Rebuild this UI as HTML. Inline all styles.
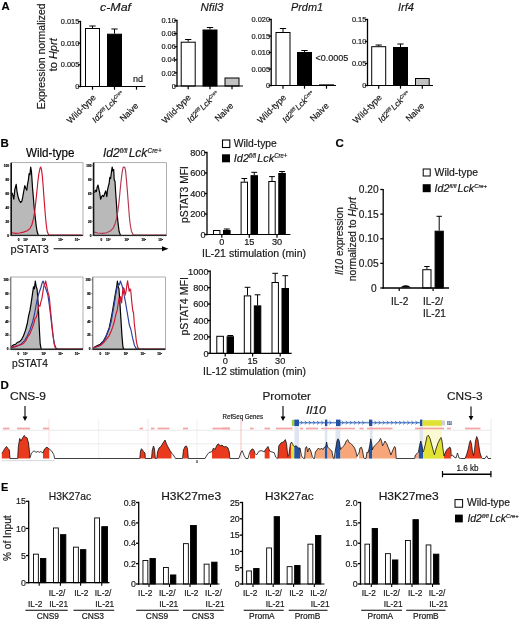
<!DOCTYPE html>
<html><head><meta charset="utf-8"><title>Figure</title>
<style>
html,body{margin:0;padding:0;background:#fff;}
body{width:520px;height:621px;overflow:hidden;}
svg{display:block;will-change:transform;}
svg text{font-family:"Liberation Sans",Arial,Helvetica,sans-serif;stroke:#111;stroke-width:0.18px;}
</style></head><body>
<svg width="520" height="621" viewBox="0 0 520 621">
<rect width="520" height="621" fill="#fff"/>
<text x="1.5" y="10.4" text-anchor="start" style="font-size:11.3px;font-weight:bold;" fill="#000">A</text>
<text x="45.2" y="56.3" text-anchor="middle" style="font-size:11px;" fill="#1a1a1a" transform="rotate(-90 45.2 56.3)" textLength="106" lengthAdjust="spacingAndGlyphs">Expression normalized</text>
<text x="56.7" y="54.8" text-anchor="middle" style="font-size:11px;" fill="#1a1a1a" transform="rotate(-90 56.7 54.8)">to <tspan style="font-style:italic">Hprt</tspan></text>
<rect x="85.50" y="28.50" width="14.00" height="58.00" fill="#fff" stroke="#000" stroke-width="1.0"/>
<line x1="92.5" y1="28" x2="92.5" y2="26" stroke="#000" stroke-width="1.0" stroke-linecap="butt"/>
<line x1="89.35" y1="26" x2="95.65" y2="26" stroke="#000" stroke-width="1.0" stroke-linecap="butt"/>
<rect x="107.50" y="34.20" width="14.00" height="52.30" fill="#000" stroke="#000" stroke-width="1.0"/>
<line x1="114.5" y1="33.7" x2="114.5" y2="29" stroke="#000" stroke-width="1.0" stroke-linecap="butt"/>
<line x1="111.35" y1="29" x2="117.65" y2="29" stroke="#000" stroke-width="1.0" stroke-linecap="butt"/>
<line x1="80.5" y1="20.85" x2="80.5" y2="87.15" stroke="#000" stroke-width="1.3" stroke-linecap="butt"/>
<line x1="77.8" y1="86.5" x2="80.5" y2="86.5" stroke="#000" stroke-width="1.3" stroke-linecap="butt"/>
<text x="79.3" y="89.164" text-anchor="end" style="font-size:7.4px;" fill="#1a1a1a">0</text>
<line x1="77.8" y1="64.83333333333333" x2="80.5" y2="64.83333333333333" stroke="#000" stroke-width="1.3" stroke-linecap="butt"/>
<text x="79.3" y="67.49733333333333" text-anchor="end" style="font-size:7.4px;" fill="#1a1a1a">0.005</text>
<line x1="77.8" y1="43.166666666666664" x2="80.5" y2="43.166666666666664" stroke="#000" stroke-width="1.3" stroke-linecap="butt"/>
<text x="79.3" y="45.830666666666666" text-anchor="end" style="font-size:7.4px;" fill="#1a1a1a">0.010</text>
<line x1="77.8" y1="21.5" x2="80.5" y2="21.5" stroke="#000" stroke-width="1.3" stroke-linecap="butt"/>
<text x="79.3" y="24.164" text-anchor="end" style="font-size:7.4px;" fill="#1a1a1a">0.015</text>
<line x1="79.9" y1="86.5" x2="145.5" y2="86.5" stroke="#000" stroke-width="1.2" stroke-linecap="butt"/>
<text x="115.5" y="10.5" text-anchor="middle" style="font-size:11.5px;font-style:italic;" fill="#1a1a1a" textLength="31" lengthAdjust="spacingAndGlyphs">c-Maf</text>
<text x="138" y="82" text-anchor="middle" style="font-size:9px;" fill="#1a1a1a">nd</text>
<rect x="181.20" y="42.20" width="14.00" height="43.80" fill="#fff" stroke="#000" stroke-width="1.0"/>
<line x1="188.2" y1="41.7" x2="188.2" y2="39.5" stroke="#000" stroke-width="1.0" stroke-linecap="butt"/>
<line x1="185.04999999999998" y1="39.5" x2="191.35" y2="39.5" stroke="#000" stroke-width="1.0" stroke-linecap="butt"/>
<rect x="203.00" y="30.00" width="14.00" height="56.00" fill="#000" stroke="#000" stroke-width="1.0"/>
<line x1="210.0" y1="29.5" x2="210.0" y2="27.5" stroke="#000" stroke-width="1.0" stroke-linecap="butt"/>
<line x1="206.85" y1="27.5" x2="213.15" y2="27.5" stroke="#000" stroke-width="1.0" stroke-linecap="butt"/>
<rect x="225.00" y="78.00" width="14.00" height="8.00" fill="#c2c2c2" stroke="#000" stroke-width="1.0"/>
<line x1="177" y1="19.85" x2="177" y2="86.65" stroke="#000" stroke-width="1.3" stroke-linecap="butt"/>
<line x1="174.3" y1="86.0" x2="177" y2="86.0" stroke="#000" stroke-width="1.3" stroke-linecap="butt"/>
<text x="175.8" y="88.664" text-anchor="end" style="font-size:7.4px;" fill="#1a1a1a">0</text>
<line x1="174.3" y1="72.9" x2="177" y2="72.9" stroke="#000" stroke-width="1.3" stroke-linecap="butt"/>
<text x="175.8" y="75.56400000000001" text-anchor="end" style="font-size:7.4px;" fill="#1a1a1a">0.02</text>
<line x1="174.3" y1="59.8" x2="177" y2="59.8" stroke="#000" stroke-width="1.3" stroke-linecap="butt"/>
<text x="175.8" y="62.464" text-anchor="end" style="font-size:7.4px;" fill="#1a1a1a">0.04</text>
<line x1="174.3" y1="46.7" x2="177" y2="46.7" stroke="#000" stroke-width="1.3" stroke-linecap="butt"/>
<text x="175.8" y="49.364000000000004" text-anchor="end" style="font-size:7.4px;" fill="#1a1a1a">0.06</text>
<line x1="174.3" y1="33.6" x2="177" y2="33.6" stroke="#000" stroke-width="1.3" stroke-linecap="butt"/>
<text x="175.8" y="36.264" text-anchor="end" style="font-size:7.4px;" fill="#1a1a1a">0.08</text>
<line x1="174.3" y1="20.5" x2="177" y2="20.5" stroke="#000" stroke-width="1.3" stroke-linecap="butt"/>
<text x="175.8" y="23.164" text-anchor="end" style="font-size:7.4px;" fill="#1a1a1a">0.10</text>
<line x1="176.4" y1="86" x2="243" y2="86" stroke="#000" stroke-width="1.2" stroke-linecap="butt"/>
<text x="212" y="10.5" text-anchor="middle" style="font-size:11.5px;font-style:italic;" fill="#1a1a1a" textLength="23" lengthAdjust="spacingAndGlyphs">Nfil3</text>
<rect x="276.00" y="32.50" width="14.00" height="53.00" fill="#fff" stroke="#000" stroke-width="1.0"/>
<line x1="283.0" y1="32" x2="283.0" y2="28.5" stroke="#000" stroke-width="1.0" stroke-linecap="butt"/>
<line x1="279.85" y1="28.5" x2="286.15" y2="28.5" stroke="#000" stroke-width="1.0" stroke-linecap="butt"/>
<rect x="297.50" y="52.50" width="14.00" height="33.00" fill="#000" stroke="#000" stroke-width="1.0"/>
<line x1="304.5" y1="52" x2="304.5" y2="50.5" stroke="#000" stroke-width="1.0" stroke-linecap="butt"/>
<line x1="301.35" y1="50.5" x2="307.65" y2="50.5" stroke="#000" stroke-width="1.0" stroke-linecap="butt"/>
<line x1="271.2" y1="18.85" x2="271.2" y2="86.15" stroke="#000" stroke-width="1.3" stroke-linecap="butt"/>
<line x1="268.5" y1="85.5" x2="271.2" y2="85.5" stroke="#000" stroke-width="1.3" stroke-linecap="butt"/>
<text x="270.0" y="88.164" text-anchor="end" style="font-size:7.4px;" fill="#1a1a1a">0</text>
<line x1="268.5" y1="69.0" x2="271.2" y2="69.0" stroke="#000" stroke-width="1.3" stroke-linecap="butt"/>
<text x="270.0" y="71.664" text-anchor="end" style="font-size:7.4px;" fill="#1a1a1a">0.005</text>
<line x1="268.5" y1="52.5" x2="271.2" y2="52.5" stroke="#000" stroke-width="1.3" stroke-linecap="butt"/>
<text x="270.0" y="55.164" text-anchor="end" style="font-size:7.4px;" fill="#1a1a1a">0.010</text>
<line x1="268.5" y1="36.0" x2="271.2" y2="36.0" stroke="#000" stroke-width="1.3" stroke-linecap="butt"/>
<text x="270.0" y="38.664" text-anchor="end" style="font-size:7.4px;" fill="#1a1a1a">0.015</text>
<line x1="268.5" y1="19.5" x2="271.2" y2="19.5" stroke="#000" stroke-width="1.3" stroke-linecap="butt"/>
<text x="270.0" y="22.164" text-anchor="end" style="font-size:7.4px;" fill="#1a1a1a">0.020</text>
<line x1="270.59999999999997" y1="85.5" x2="336" y2="85.5" stroke="#000" stroke-width="1.2" stroke-linecap="butt"/>
<text x="307" y="10.5" text-anchor="middle" style="font-size:11.5px;font-style:italic;" fill="#1a1a1a" textLength="32" lengthAdjust="spacingAndGlyphs">Prdm1</text>
<line x1="319" y1="84.7" x2="334" y2="84.7" stroke="#000" stroke-width="0.8" stroke-linecap="butt"/>
<text x="315.5" y="60.8" text-anchor="start" style="font-size:9px;" fill="#1a1a1a">&lt;0.0005</text>
<rect x="371.70" y="46.70" width="14.00" height="38.80" fill="#fff" stroke="#000" stroke-width="1.0"/>
<line x1="378.7" y1="46.2" x2="378.7" y2="45" stroke="#000" stroke-width="1.0" stroke-linecap="butt"/>
<line x1="375.55" y1="45" x2="381.84999999999997" y2="45" stroke="#000" stroke-width="1.0" stroke-linecap="butt"/>
<rect x="393.50" y="47.50" width="14.00" height="38.00" fill="#000" stroke="#000" stroke-width="1.0"/>
<line x1="400.5" y1="47" x2="400.5" y2="44" stroke="#000" stroke-width="1.0" stroke-linecap="butt"/>
<line x1="397.35" y1="44" x2="403.65" y2="44" stroke="#000" stroke-width="1.0" stroke-linecap="butt"/>
<rect x="415.50" y="78.50" width="13.70" height="7.00" fill="#c2c2c2" stroke="#000" stroke-width="1.0"/>
<line x1="367.5" y1="18.85" x2="367.5" y2="86.15" stroke="#000" stroke-width="1.3" stroke-linecap="butt"/>
<line x1="364.8" y1="85.5" x2="367.5" y2="85.5" stroke="#000" stroke-width="1.3" stroke-linecap="butt"/>
<text x="366.3" y="88.164" text-anchor="end" style="font-size:7.4px;" fill="#1a1a1a">0</text>
<line x1="364.8" y1="63.5" x2="367.5" y2="63.5" stroke="#000" stroke-width="1.3" stroke-linecap="butt"/>
<text x="366.3" y="66.164" text-anchor="end" style="font-size:7.4px;" fill="#1a1a1a">0.05</text>
<line x1="364.8" y1="41.5" x2="367.5" y2="41.5" stroke="#000" stroke-width="1.3" stroke-linecap="butt"/>
<text x="366.3" y="44.164" text-anchor="end" style="font-size:7.4px;" fill="#1a1a1a">0.10</text>
<line x1="364.8" y1="19.5" x2="367.5" y2="19.5" stroke="#000" stroke-width="1.3" stroke-linecap="butt"/>
<text x="366.3" y="22.164" text-anchor="end" style="font-size:7.4px;" fill="#1a1a1a">0.15</text>
<line x1="366.9" y1="85.5" x2="433" y2="85.5" stroke="#000" stroke-width="1.2" stroke-linecap="butt"/>
<text x="406" y="10.5" text-anchor="middle" style="font-size:11.5px;font-style:italic;" fill="#1a1a1a" textLength="16" lengthAdjust="spacingAndGlyphs">Irf4</text>
<line x1="92.5" y1="86.5" x2="92.5" y2="89.7" stroke="#000" stroke-width="1.2" stroke-linecap="butt"/>
<line x1="114.5" y1="86.5" x2="114.5" y2="89.7" stroke="#000" stroke-width="1.2" stroke-linecap="butt"/>
<line x1="136.5" y1="86.5" x2="136.5" y2="89.7" stroke="#000" stroke-width="1.2" stroke-linecap="butt"/>
<text x="70.6" y="124.0" text-anchor="start" style="font-size:8.8px;" fill="#1a1a1a" transform="rotate(-45 70.6 124.0)">Wild-type</text>
<g transform="translate(95.5 123.2) rotate(-45)" fill="#1a1a1a" style="font-style:italic"><text x="0.00" y="0" style="font-size:8.4px">Id2</text><text x="11.76" y="-2.77" style="font-size:4.87px" textLength="5.29" lengthAdjust="spacingAndGlyphs">fl/fl</text><text x="17.98" y="0" style="font-size:8.4px">Lck</text><text x="31.08" y="-2.77" style="font-size:4.87px" textLength="10.08" lengthAdjust="spacingAndGlyphs">Cre+</text></g>
<text x="123.3" y="122.1" text-anchor="start" style="font-size:8.7px;" fill="#1a1a1a" transform="rotate(-45 123.3 122.1)">Naive</text>
<line x1="188.2" y1="86" x2="188.2" y2="89.2" stroke="#000" stroke-width="1.2" stroke-linecap="butt"/>
<line x1="210" y1="86" x2="210" y2="89.2" stroke="#000" stroke-width="1.2" stroke-linecap="butt"/>
<line x1="232" y1="86" x2="232" y2="89.2" stroke="#000" stroke-width="1.2" stroke-linecap="butt"/>
<text x="165.6" y="124.0" text-anchor="start" style="font-size:8.8px;" fill="#1a1a1a" transform="rotate(-45 165.6 124.0)">Wild-type</text>
<g transform="translate(190.5 123.2) rotate(-45)" fill="#1a1a1a" style="font-style:italic"><text x="0.00" y="0" style="font-size:8.4px">Id2</text><text x="11.76" y="-2.77" style="font-size:4.87px" textLength="5.29" lengthAdjust="spacingAndGlyphs">fl/fl</text><text x="17.98" y="0" style="font-size:8.4px">Lck</text><text x="31.08" y="-2.77" style="font-size:4.87px" textLength="10.08" lengthAdjust="spacingAndGlyphs">Cre+</text></g>
<text x="218.3" y="122.1" text-anchor="start" style="font-size:8.7px;" fill="#1a1a1a" transform="rotate(-45 218.3 122.1)">Naive</text>
<line x1="283" y1="85.5" x2="283" y2="88.7" stroke="#000" stroke-width="1.2" stroke-linecap="butt"/>
<line x1="304.5" y1="85.5" x2="304.5" y2="88.7" stroke="#000" stroke-width="1.2" stroke-linecap="butt"/>
<line x1="326.5" y1="85.5" x2="326.5" y2="88.7" stroke="#000" stroke-width="1.2" stroke-linecap="butt"/>
<text x="260.9" y="124.0" text-anchor="start" style="font-size:8.8px;" fill="#1a1a1a" transform="rotate(-45 260.9 124.0)">Wild-type</text>
<g transform="translate(285.8 123.2) rotate(-45)" fill="#1a1a1a" style="font-style:italic"><text x="0.00" y="0" style="font-size:8.4px">Id2</text><text x="11.76" y="-2.77" style="font-size:4.87px" textLength="5.29" lengthAdjust="spacingAndGlyphs">fl/fl</text><text x="17.98" y="0" style="font-size:8.4px">Lck</text><text x="31.08" y="-2.77" style="font-size:4.87px" textLength="10.08" lengthAdjust="spacingAndGlyphs">Cre+</text></g>
<text x="313.6" y="122.1" text-anchor="start" style="font-size:8.7px;" fill="#1a1a1a" transform="rotate(-45 313.6 122.1)">Naive</text>
<line x1="378.7" y1="85.5" x2="378.7" y2="88.7" stroke="#000" stroke-width="1.2" stroke-linecap="butt"/>
<line x1="400.5" y1="85.5" x2="400.5" y2="88.7" stroke="#000" stroke-width="1.2" stroke-linecap="butt"/>
<line x1="422.3" y1="85.5" x2="422.3" y2="88.7" stroke="#000" stroke-width="1.2" stroke-linecap="butt"/>
<text x="356.6" y="124.0" text-anchor="start" style="font-size:8.8px;" fill="#1a1a1a" transform="rotate(-45 356.6 124.0)">Wild-type</text>
<g transform="translate(381.5 123.2) rotate(-45)" fill="#1a1a1a" style="font-style:italic"><text x="0.00" y="0" style="font-size:8.4px">Id2</text><text x="11.76" y="-2.77" style="font-size:4.87px" textLength="5.29" lengthAdjust="spacingAndGlyphs">fl/fl</text><text x="17.98" y="0" style="font-size:8.4px">Lck</text><text x="31.08" y="-2.77" style="font-size:4.87px" textLength="10.08" lengthAdjust="spacingAndGlyphs">Cre+</text></g>
<text x="409.3" y="122.1" text-anchor="start" style="font-size:8.7px;" fill="#1a1a1a" transform="rotate(-45 409.3 122.1)">Naive</text>
<text x="0.5" y="147" text-anchor="start" style="font-size:11.5px;font-weight:bold;" fill="#000">B</text>
<text x="50.2" y="157.2" text-anchor="middle" style="font-size:12px;" fill="#000" textLength="48.5" lengthAdjust="spacingAndGlyphs">Wild-type</text>
<g transform="translate(103 157.2)" fill="#1a1a1a" style="font-style:italic"><text x="0.00" y="0" style="font-size:12px">Id2</text><text x="16.80" y="-3.96" style="font-size:6.96px" textLength="7.56" lengthAdjust="spacingAndGlyphs">fl/fl</text><text x="25.68" y="0" style="font-size:12px">Lck</text><text x="44.40" y="-3.96" style="font-size:6.96px" textLength="14.40" lengthAdjust="spacingAndGlyphs">Cre+</text></g>
<rect x="11.2" y="162.7" width="71.8" height="72.70000000000002" fill="#fff" stroke="#8c8c8c" stroke-width="0.7"/>
<polygon points="11.7,235.4 11.9,192.8 12.9,195.4 13.8,199.2 14.7,190.2 15.5,187.0 16.2,184.4 17.0,191.5 18.1,196.7 19.3,200.5 20.6,202.5 21.9,201.2 22.8,196.7 23.7,191.5 24.8,185.7 25.8,188.3 26.8,190.2 27.6,183.8 28.4,179.9 29.1,173.5 29.9,174.8 30.7,167.0 31.5,172.2 32.0,179.9 32.5,187.6 33.3,196.7 34.0,205.7 35.1,216.0 36.1,225.0 37.1,231.5 38.3,235.1 38.3,235.4" fill="#b9b9b9" stroke="none"/>
<polyline points="11.9,192.8 12.9,195.4 13.8,199.2 14.7,190.2 15.5,187.0 16.2,184.4 17.0,191.5 18.1,196.7 19.3,200.5 20.6,202.5 21.9,201.2 22.8,196.7 23.7,191.5 24.8,185.7 25.8,188.3 26.8,190.2 27.6,183.8 28.4,179.9 29.1,173.5 29.9,174.8 30.7,167.0 31.5,172.2 32.0,179.9 32.5,187.6 33.3,196.7 34.0,205.7 35.1,216.0 36.1,225.0 37.1,231.5 38.3,235.1" fill="none" stroke="#000" stroke-width="1.2" stroke-linejoin="round"/>
<polyline points="11.9,232.7 15.7,233.4 19.6,233.0 23.5,232.1 27.3,230.8 29.9,228.6 31.8,225.0 33.5,218.6 34.8,210.8 35.8,201.8 36.9,191.5 37.9,181.2 38.9,173.5 40.0,168.3 40.7,167.0 41.5,169.6 42.3,176.0 43.1,185.1 43.8,195.4 44.6,205.7 45.4,216.0 46.3,225.0 47.2,231.5 48.6,234.7 68.1,235.1 82.1,235.1" fill="none" stroke="#cf1430" stroke-width="1.15" stroke-linejoin="round"/>
<line x1="10.899999999999999" y1="235.4" x2="83" y2="235.4" stroke="#222" stroke-width="1.4" stroke-linecap="butt"/>
<line x1="11.2" y1="162.7" x2="11.2" y2="235.4" stroke="#111" stroke-width="1.6" stroke-linecap="butt"/>
<line x1="9.399999999999999" y1="235.4" x2="11.2" y2="235.4" stroke="#444" stroke-width="0.5" stroke-linecap="butt"/>
<text x="9.0" y="236.5" text-anchor="end" style="font-size:3.1px;font-weight:bold;" fill="#000">0</text>
<line x1="9.399999999999999" y1="221.4416" x2="11.2" y2="221.4416" stroke="#444" stroke-width="0.5" stroke-linecap="butt"/>
<text x="9.0" y="222.5416" text-anchor="end" style="font-size:3.1px;font-weight:bold;" fill="#000">20</text>
<line x1="9.399999999999999" y1="207.4832" x2="11.2" y2="207.4832" stroke="#444" stroke-width="0.5" stroke-linecap="butt"/>
<text x="9.0" y="208.5832" text-anchor="end" style="font-size:3.1px;font-weight:bold;" fill="#000">40</text>
<line x1="9.399999999999999" y1="193.5248" x2="11.2" y2="193.5248" stroke="#444" stroke-width="0.5" stroke-linecap="butt"/>
<text x="9.0" y="194.6248" text-anchor="end" style="font-size:3.1px;font-weight:bold;" fill="#000">60</text>
<line x1="9.399999999999999" y1="179.5664" x2="11.2" y2="179.5664" stroke="#444" stroke-width="0.5" stroke-linecap="butt"/>
<text x="9.0" y="180.66639999999998" text-anchor="end" style="font-size:3.1px;font-weight:bold;" fill="#000">80</text>
<line x1="9.399999999999999" y1="165.608" x2="11.2" y2="165.608" stroke="#444" stroke-width="0.5" stroke-linecap="butt"/>
<text x="9.0" y="166.708" text-anchor="end" style="font-size:3.1px;font-weight:bold;" fill="#000">100</text>
<text x="18.738999999999997" y="241.0" text-anchor="middle" style="font-size:3.1px;font-weight:bold;" fill="#000">0</text>
<text x="25.56" y="241.0" text-anchor="middle" style="font-size:3.1px;font-weight:bold;" fill="#000">10²</text>
<text x="43.869" y="241.0" text-anchor="middle" style="font-size:3.1px;font-weight:bold;" fill="#000">10³</text>
<text x="60.74199999999999" y="241.0" text-anchor="middle" style="font-size:3.1px;font-weight:bold;" fill="#000">10⁴</text>
<text x="77.256" y="241.0" text-anchor="middle" style="font-size:3.1px;font-weight:bold;" fill="#000">10⁵</text>
<line x1="12.2" y1="235.4" x2="12.2" y2="236.70000000000002" stroke="#555" stroke-width="0.35" stroke-linecap="butt"/>
<line x1="13.98974358974359" y1="235.4" x2="13.98974358974359" y2="236.70000000000002" stroke="#555" stroke-width="0.35" stroke-linecap="butt"/>
<line x1="15.779487179487178" y1="235.4" x2="15.779487179487178" y2="236.70000000000002" stroke="#555" stroke-width="0.35" stroke-linecap="butt"/>
<line x1="17.569230769230767" y1="235.4" x2="17.569230769230767" y2="236.70000000000002" stroke="#555" stroke-width="0.35" stroke-linecap="butt"/>
<line x1="19.358974358974358" y1="235.4" x2="19.358974358974358" y2="236.70000000000002" stroke="#555" stroke-width="0.35" stroke-linecap="butt"/>
<line x1="21.148717948717948" y1="235.4" x2="21.148717948717948" y2="236.70000000000002" stroke="#555" stroke-width="0.35" stroke-linecap="butt"/>
<line x1="22.93846153846154" y1="235.4" x2="22.93846153846154" y2="236.70000000000002" stroke="#555" stroke-width="0.35" stroke-linecap="butt"/>
<line x1="24.728205128205126" y1="235.4" x2="24.728205128205126" y2="236.70000000000002" stroke="#555" stroke-width="0.35" stroke-linecap="butt"/>
<line x1="26.517948717948716" y1="235.4" x2="26.517948717948716" y2="236.70000000000002" stroke="#555" stroke-width="0.35" stroke-linecap="butt"/>
<line x1="28.307692307692307" y1="235.4" x2="28.307692307692307" y2="236.70000000000002" stroke="#555" stroke-width="0.35" stroke-linecap="butt"/>
<line x1="30.097435897435897" y1="235.4" x2="30.097435897435897" y2="236.70000000000002" stroke="#555" stroke-width="0.35" stroke-linecap="butt"/>
<line x1="31.887179487179484" y1="235.4" x2="31.887179487179484" y2="236.70000000000002" stroke="#555" stroke-width="0.35" stroke-linecap="butt"/>
<line x1="33.676923076923075" y1="235.4" x2="33.676923076923075" y2="236.70000000000002" stroke="#555" stroke-width="0.35" stroke-linecap="butt"/>
<line x1="35.46666666666667" y1="235.4" x2="35.46666666666667" y2="236.70000000000002" stroke="#555" stroke-width="0.35" stroke-linecap="butt"/>
<line x1="37.256410256410255" y1="235.4" x2="37.256410256410255" y2="236.70000000000002" stroke="#555" stroke-width="0.35" stroke-linecap="butt"/>
<line x1="39.04615384615384" y1="235.4" x2="39.04615384615384" y2="236.70000000000002" stroke="#555" stroke-width="0.35" stroke-linecap="butt"/>
<line x1="40.83589743589744" y1="235.4" x2="40.83589743589744" y2="236.70000000000002" stroke="#555" stroke-width="0.35" stroke-linecap="butt"/>
<line x1="42.62564102564102" y1="235.4" x2="42.62564102564102" y2="236.70000000000002" stroke="#555" stroke-width="0.35" stroke-linecap="butt"/>
<line x1="44.41538461538461" y1="235.4" x2="44.41538461538461" y2="236.70000000000002" stroke="#555" stroke-width="0.35" stroke-linecap="butt"/>
<line x1="46.205128205128204" y1="235.4" x2="46.205128205128204" y2="236.70000000000002" stroke="#555" stroke-width="0.35" stroke-linecap="butt"/>
<line x1="47.9948717948718" y1="235.4" x2="47.9948717948718" y2="236.70000000000002" stroke="#555" stroke-width="0.35" stroke-linecap="butt"/>
<line x1="49.78461538461538" y1="235.4" x2="49.78461538461538" y2="236.70000000000002" stroke="#555" stroke-width="0.35" stroke-linecap="butt"/>
<line x1="51.57435897435897" y1="235.4" x2="51.57435897435897" y2="236.70000000000002" stroke="#555" stroke-width="0.35" stroke-linecap="butt"/>
<line x1="53.364102564102566" y1="235.4" x2="53.364102564102566" y2="236.70000000000002" stroke="#555" stroke-width="0.35" stroke-linecap="butt"/>
<line x1="55.153846153846146" y1="235.4" x2="55.153846153846146" y2="236.70000000000002" stroke="#555" stroke-width="0.35" stroke-linecap="butt"/>
<line x1="56.94358974358974" y1="235.4" x2="56.94358974358974" y2="236.70000000000002" stroke="#555" stroke-width="0.35" stroke-linecap="butt"/>
<line x1="58.733333333333334" y1="235.4" x2="58.733333333333334" y2="236.70000000000002" stroke="#555" stroke-width="0.35" stroke-linecap="butt"/>
<line x1="60.523076923076914" y1="235.4" x2="60.523076923076914" y2="236.70000000000002" stroke="#555" stroke-width="0.35" stroke-linecap="butt"/>
<line x1="62.31282051282051" y1="235.4" x2="62.31282051282051" y2="236.70000000000002" stroke="#555" stroke-width="0.35" stroke-linecap="butt"/>
<line x1="64.1025641025641" y1="235.4" x2="64.1025641025641" y2="236.70000000000002" stroke="#555" stroke-width="0.35" stroke-linecap="butt"/>
<line x1="65.8923076923077" y1="235.4" x2="65.8923076923077" y2="236.70000000000002" stroke="#555" stroke-width="0.35" stroke-linecap="butt"/>
<line x1="67.68205128205128" y1="235.4" x2="67.68205128205128" y2="236.70000000000002" stroke="#555" stroke-width="0.35" stroke-linecap="butt"/>
<line x1="69.47179487179487" y1="235.4" x2="69.47179487179487" y2="236.70000000000002" stroke="#555" stroke-width="0.35" stroke-linecap="butt"/>
<line x1="71.26153846153846" y1="235.4" x2="71.26153846153846" y2="236.70000000000002" stroke="#555" stroke-width="0.35" stroke-linecap="butt"/>
<line x1="73.05128205128204" y1="235.4" x2="73.05128205128204" y2="236.70000000000002" stroke="#555" stroke-width="0.35" stroke-linecap="butt"/>
<line x1="74.84102564102564" y1="235.4" x2="74.84102564102564" y2="236.70000000000002" stroke="#555" stroke-width="0.35" stroke-linecap="butt"/>
<line x1="76.63076923076923" y1="235.4" x2="76.63076923076923" y2="236.70000000000002" stroke="#555" stroke-width="0.35" stroke-linecap="butt"/>
<line x1="78.42051282051283" y1="235.4" x2="78.42051282051283" y2="236.70000000000002" stroke="#555" stroke-width="0.35" stroke-linecap="butt"/>
<line x1="80.21025641025642" y1="235.4" x2="80.21025641025642" y2="236.70000000000002" stroke="#555" stroke-width="0.35" stroke-linecap="butt"/>
<line x1="82.0" y1="235.4" x2="82.0" y2="236.70000000000002" stroke="#555" stroke-width="0.35" stroke-linecap="butt"/>
<rect x="93.6" y="162.7" width="72.9" height="72.70000000000002" fill="#fff" stroke="#8c8c8c" stroke-width="0.7"/>
<polygon points="94.1,235.4 94.5,192.8 95.4,190.2 96.4,191.5 97.2,187.0 98.0,185.1 98.8,188.9 99.7,192.8 100.6,199.2 101.6,196.7 102.6,195.4 103.7,196.7 104.7,193.4 105.7,190.9 106.8,196.7 107.5,190.2 108.3,186.4 109.1,183.8 109.8,177.3 110.6,178.6 111.4,172.2 112.2,167.0 112.9,170.9 113.7,169.6 114.2,179.9 115.0,181.2 115.5,190.2 116.3,201.8 117.1,213.4 118.1,223.7 119.1,231.5 120.4,235.1 120.4,235.4" fill="#b9b9b9" stroke="none"/>
<polyline points="94.5,192.8 95.4,190.2 96.4,191.5 97.2,187.0 98.0,185.1 98.8,188.9 99.7,192.8 100.6,199.2 101.6,196.7 102.6,195.4 103.7,196.7 104.7,193.4 105.7,190.9 106.8,196.7 107.5,190.2 108.3,186.4 109.1,183.8 109.8,177.3 110.6,178.6 111.4,172.2 112.2,167.0 112.9,170.9 113.7,169.6 114.2,179.9 115.0,181.2 115.5,190.2 116.3,201.8 117.1,213.4 118.1,223.7 119.1,231.5 120.4,235.1" fill="none" stroke="#000" stroke-width="1.2" stroke-linejoin="round"/>
<polyline points="94.5,232.1 97.7,233.0 102.9,233.4 106.8,232.7 110.6,230.8 113.2,228.2 115.1,223.7 116.5,218.6 117.7,212.1 118.9,203.1 119.9,192.8 120.9,182.5 122.0,173.5 123.0,167.7 123.8,167.0 124.8,167.3 125.6,170.9 126.3,178.6 127.1,187.6 127.9,197.9 128.7,208.3 129.4,217.3 130.3,225.0 131.5,231.5 133.2,234.7 150.1,235.1 166.0,235.1" fill="none" stroke="#b5364f" stroke-width="1.15" stroke-linejoin="round"/>
<line x1="93.3" y1="235.4" x2="166.5" y2="235.4" stroke="#222" stroke-width="1.4" stroke-linecap="butt"/>
<line x1="93.6" y1="162.7" x2="93.6" y2="235.4" stroke="#111" stroke-width="1.6" stroke-linecap="butt"/>
<line x1="91.8" y1="235.4" x2="93.6" y2="235.4" stroke="#444" stroke-width="0.5" stroke-linecap="butt"/>
<text x="91.39999999999999" y="236.5" text-anchor="end" style="font-size:3.1px;font-weight:bold;" fill="#000">0</text>
<line x1="91.8" y1="221.4416" x2="93.6" y2="221.4416" stroke="#444" stroke-width="0.5" stroke-linecap="butt"/>
<text x="91.39999999999999" y="222.5416" text-anchor="end" style="font-size:3.1px;font-weight:bold;" fill="#000">20</text>
<line x1="91.8" y1="207.4832" x2="93.6" y2="207.4832" stroke="#444" stroke-width="0.5" stroke-linecap="butt"/>
<text x="91.39999999999999" y="208.5832" text-anchor="end" style="font-size:3.1px;font-weight:bold;" fill="#000">40</text>
<line x1="91.8" y1="193.5248" x2="93.6" y2="193.5248" stroke="#444" stroke-width="0.5" stroke-linecap="butt"/>
<text x="91.39999999999999" y="194.6248" text-anchor="end" style="font-size:3.1px;font-weight:bold;" fill="#000">60</text>
<line x1="91.8" y1="179.5664" x2="93.6" y2="179.5664" stroke="#444" stroke-width="0.5" stroke-linecap="butt"/>
<text x="91.39999999999999" y="180.66639999999998" text-anchor="end" style="font-size:3.1px;font-weight:bold;" fill="#000">80</text>
<line x1="91.8" y1="165.608" x2="93.6" y2="165.608" stroke="#444" stroke-width="0.5" stroke-linecap="butt"/>
<text x="91.39999999999999" y="166.708" text-anchor="end" style="font-size:3.1px;font-weight:bold;" fill="#000">100</text>
<text x="101.2545" y="241.0" text-anchor="middle" style="font-size:3.1px;font-weight:bold;" fill="#000">0</text>
<text x="108.17999999999999" y="241.0" text-anchor="middle" style="font-size:3.1px;font-weight:bold;" fill="#000">10²</text>
<text x="126.7695" y="241.0" text-anchor="middle" style="font-size:3.1px;font-weight:bold;" fill="#000">10³</text>
<text x="143.901" y="241.0" text-anchor="middle" style="font-size:3.1px;font-weight:bold;" fill="#000">10⁴</text>
<text x="160.668" y="241.0" text-anchor="middle" style="font-size:3.1px;font-weight:bold;" fill="#000">10⁵</text>
<line x1="94.6" y1="235.4" x2="94.6" y2="236.70000000000002" stroke="#555" stroke-width="0.35" stroke-linecap="butt"/>
<line x1="96.41794871794872" y1="235.4" x2="96.41794871794872" y2="236.70000000000002" stroke="#555" stroke-width="0.35" stroke-linecap="butt"/>
<line x1="98.23589743589743" y1="235.4" x2="98.23589743589743" y2="236.70000000000002" stroke="#555" stroke-width="0.35" stroke-linecap="butt"/>
<line x1="100.05384615384615" y1="235.4" x2="100.05384615384615" y2="236.70000000000002" stroke="#555" stroke-width="0.35" stroke-linecap="butt"/>
<line x1="101.87179487179486" y1="235.4" x2="101.87179487179486" y2="236.70000000000002" stroke="#555" stroke-width="0.35" stroke-linecap="butt"/>
<line x1="103.68974358974359" y1="235.4" x2="103.68974358974359" y2="236.70000000000002" stroke="#555" stroke-width="0.35" stroke-linecap="butt"/>
<line x1="105.50769230769231" y1="235.4" x2="105.50769230769231" y2="236.70000000000002" stroke="#555" stroke-width="0.35" stroke-linecap="butt"/>
<line x1="107.32564102564102" y1="235.4" x2="107.32564102564102" y2="236.70000000000002" stroke="#555" stroke-width="0.35" stroke-linecap="butt"/>
<line x1="109.14358974358974" y1="235.4" x2="109.14358974358974" y2="236.70000000000002" stroke="#555" stroke-width="0.35" stroke-linecap="butt"/>
<line x1="110.96153846153845" y1="235.4" x2="110.96153846153845" y2="236.70000000000002" stroke="#555" stroke-width="0.35" stroke-linecap="butt"/>
<line x1="112.77948717948718" y1="235.4" x2="112.77948717948718" y2="236.70000000000002" stroke="#555" stroke-width="0.35" stroke-linecap="butt"/>
<line x1="114.5974358974359" y1="235.4" x2="114.5974358974359" y2="236.70000000000002" stroke="#555" stroke-width="0.35" stroke-linecap="butt"/>
<line x1="116.41538461538461" y1="235.4" x2="116.41538461538461" y2="236.70000000000002" stroke="#555" stroke-width="0.35" stroke-linecap="butt"/>
<line x1="118.23333333333332" y1="235.4" x2="118.23333333333332" y2="236.70000000000002" stroke="#555" stroke-width="0.35" stroke-linecap="butt"/>
<line x1="120.05128205128204" y1="235.4" x2="120.05128205128204" y2="236.70000000000002" stroke="#555" stroke-width="0.35" stroke-linecap="butt"/>
<line x1="121.86923076923077" y1="235.4" x2="121.86923076923077" y2="236.70000000000002" stroke="#555" stroke-width="0.35" stroke-linecap="butt"/>
<line x1="123.68717948717949" y1="235.4" x2="123.68717948717949" y2="236.70000000000002" stroke="#555" stroke-width="0.35" stroke-linecap="butt"/>
<line x1="125.5051282051282" y1="235.4" x2="125.5051282051282" y2="236.70000000000002" stroke="#555" stroke-width="0.35" stroke-linecap="butt"/>
<line x1="127.32307692307691" y1="235.4" x2="127.32307692307691" y2="236.70000000000002" stroke="#555" stroke-width="0.35" stroke-linecap="butt"/>
<line x1="129.14102564102564" y1="235.4" x2="129.14102564102564" y2="236.70000000000002" stroke="#555" stroke-width="0.35" stroke-linecap="butt"/>
<line x1="130.95897435897436" y1="235.4" x2="130.95897435897436" y2="236.70000000000002" stroke="#555" stroke-width="0.35" stroke-linecap="butt"/>
<line x1="132.77692307692308" y1="235.4" x2="132.77692307692308" y2="236.70000000000002" stroke="#555" stroke-width="0.35" stroke-linecap="butt"/>
<line x1="134.59487179487178" y1="235.4" x2="134.59487179487178" y2="236.70000000000002" stroke="#555" stroke-width="0.35" stroke-linecap="butt"/>
<line x1="136.4128205128205" y1="235.4" x2="136.4128205128205" y2="236.70000000000002" stroke="#555" stroke-width="0.35" stroke-linecap="butt"/>
<line x1="138.23076923076923" y1="235.4" x2="138.23076923076923" y2="236.70000000000002" stroke="#555" stroke-width="0.35" stroke-linecap="butt"/>
<line x1="140.04871794871795" y1="235.4" x2="140.04871794871795" y2="236.70000000000002" stroke="#555" stroke-width="0.35" stroke-linecap="butt"/>
<line x1="141.86666666666667" y1="235.4" x2="141.86666666666667" y2="236.70000000000002" stroke="#555" stroke-width="0.35" stroke-linecap="butt"/>
<line x1="143.68461538461537" y1="235.4" x2="143.68461538461537" y2="236.70000000000002" stroke="#555" stroke-width="0.35" stroke-linecap="butt"/>
<line x1="145.5025641025641" y1="235.4" x2="145.5025641025641" y2="236.70000000000002" stroke="#555" stroke-width="0.35" stroke-linecap="butt"/>
<line x1="147.32051282051282" y1="235.4" x2="147.32051282051282" y2="236.70000000000002" stroke="#555" stroke-width="0.35" stroke-linecap="butt"/>
<line x1="149.13846153846154" y1="235.4" x2="149.13846153846154" y2="236.70000000000002" stroke="#555" stroke-width="0.35" stroke-linecap="butt"/>
<line x1="150.95641025641027" y1="235.4" x2="150.95641025641027" y2="236.70000000000002" stroke="#555" stroke-width="0.35" stroke-linecap="butt"/>
<line x1="152.77435897435896" y1="235.4" x2="152.77435897435896" y2="236.70000000000002" stroke="#555" stroke-width="0.35" stroke-linecap="butt"/>
<line x1="154.59230769230768" y1="235.4" x2="154.59230769230768" y2="236.70000000000002" stroke="#555" stroke-width="0.35" stroke-linecap="butt"/>
<line x1="156.4102564102564" y1="235.4" x2="156.4102564102564" y2="236.70000000000002" stroke="#555" stroke-width="0.35" stroke-linecap="butt"/>
<line x1="158.22820512820513" y1="235.4" x2="158.22820512820513" y2="236.70000000000002" stroke="#555" stroke-width="0.35" stroke-linecap="butt"/>
<line x1="160.04615384615386" y1="235.4" x2="160.04615384615386" y2="236.70000000000002" stroke="#555" stroke-width="0.35" stroke-linecap="butt"/>
<line x1="161.86410256410255" y1="235.4" x2="161.86410256410255" y2="236.70000000000002" stroke="#555" stroke-width="0.35" stroke-linecap="butt"/>
<line x1="163.6820512820513" y1="235.4" x2="163.6820512820513" y2="236.70000000000002" stroke="#555" stroke-width="0.35" stroke-linecap="butt"/>
<line x1="165.5" y1="235.4" x2="165.5" y2="236.70000000000002" stroke="#555" stroke-width="0.35" stroke-linecap="butt"/>
<text x="10.4" y="253.3" text-anchor="start" style="font-size:10.5px;" fill="#1a1a1a" textLength="38.5" lengthAdjust="spacingAndGlyphs">pSTAT3</text>
<line x1="53.6" y1="248.8" x2="165" y2="248.8" stroke="#000" stroke-width="1.1" stroke-linecap="butt"/>
<polygon points="168.5,248.8 162,246.3 162,251.3" fill="#000"/>
<rect x="10.8" y="277" width="72.2" height="72.19999999999999" fill="#fff" stroke="#8c8c8c" stroke-width="0.7"/>
<polygon points="11.3,349.2 11.2,348.0 11.9,346.1 13.8,344.8 15.7,344.2 17.7,342.2 19.6,341.6 21.5,339.7 23.5,335.8 25.4,330.6 27.3,323.5 28.6,315.8 29.9,310.7 31.2,302.9 32.5,293.9 33.5,286.8 34.4,288.8 35.3,281.0 36.1,286.2 37.0,288.8 37.6,295.2 38.3,305.5 38.9,319.7 39.6,333.9 40.2,344.2 41.2,349.1 41.2,349.2" fill="#b9b9b9" stroke="none"/>
<polyline points="11.2,348.0 11.9,346.1 13.8,344.8 15.7,344.2 17.7,342.2 19.6,341.6 21.5,339.7 23.5,335.8 25.4,330.6 27.3,323.5 28.6,315.8 29.9,310.7 31.2,302.9 32.5,293.9 33.5,286.8 34.4,288.8 35.3,281.0 36.1,286.2 37.0,288.8 37.6,295.2 38.3,305.5 38.9,319.7 39.6,333.9 40.2,344.2 41.2,349.1" fill="none" stroke="#000" stroke-width="1.2" stroke-linejoin="round"/>
<polyline points="11.2,348.0 15.7,346.7 20.9,344.2 24.8,340.3 27.3,335.8 29.9,330.0 32.5,322.3 34.4,314.5 35.7,307.4 37.0,300.4 38.3,295.2 39.6,291.3 40.9,287.5 42.1,283.0 43.1,281.0 44.1,284.2 45.4,287.5 46.7,291.3 47.9,295.2 49.2,304.2 50.5,314.5 51.8,326.1 53.1,336.4 54.4,344.2 56.3,348.7 58.3,349.1" fill="none" stroke="#2b3f9e" stroke-width="1.15" stroke-linejoin="round"/>
<polyline points="11.2,348.0 13.2,346.7 15.7,346.1 18.3,345.5 20.9,344.8 23.5,343.5 26.0,340.3 28.0,336.4 29.9,333.9 31.2,330.6 32.5,327.4 33.8,323.5 35.1,318.4 36.4,317.1 37.4,313.2 38.3,308.1 38.9,305.5 40.0,306.1 40.9,301.6 41.8,299.1 42.8,292.6 43.8,286.2 44.7,284.9 45.6,281.0 46.4,284.2 47.3,288.8 48.2,293.3 49.0,295.8 49.5,299.1 50.3,308.1 51.2,317.1 52.1,326.1 53.1,335.8 54.1,343.5 55.4,348.0 57.0,349.1 82.7,349.1" fill="none" stroke="#cf1430" stroke-width="1.15" stroke-linejoin="round"/>
<line x1="10.5" y1="349.2" x2="83" y2="349.2" stroke="#222" stroke-width="1.4" stroke-linecap="butt"/>
<line x1="10.8" y1="277" x2="10.8" y2="349.2" stroke="#666" stroke-width="0.9" stroke-linecap="butt"/>
<line x1="9.0" y1="349.2" x2="10.8" y2="349.2" stroke="#444" stroke-width="0.5" stroke-linecap="butt"/>
<text x="8.600000000000001" y="350.3" text-anchor="end" style="font-size:3.1px;font-weight:bold;" fill="#000">0</text>
<line x1="9.0" y1="335.3376" x2="10.8" y2="335.3376" stroke="#444" stroke-width="0.5" stroke-linecap="butt"/>
<text x="8.600000000000001" y="336.43760000000003" text-anchor="end" style="font-size:3.1px;font-weight:bold;" fill="#000">20</text>
<line x1="9.0" y1="321.4752" x2="10.8" y2="321.4752" stroke="#444" stroke-width="0.5" stroke-linecap="butt"/>
<text x="8.600000000000001" y="322.5752" text-anchor="end" style="font-size:3.1px;font-weight:bold;" fill="#000">40</text>
<line x1="9.0" y1="307.6128" x2="10.8" y2="307.6128" stroke="#444" stroke-width="0.5" stroke-linecap="butt"/>
<text x="8.600000000000001" y="308.7128" text-anchor="end" style="font-size:3.1px;font-weight:bold;" fill="#000">60</text>
<line x1="9.0" y1="293.7504" x2="10.8" y2="293.7504" stroke="#444" stroke-width="0.5" stroke-linecap="butt"/>
<text x="8.600000000000001" y="294.85040000000004" text-anchor="end" style="font-size:3.1px;font-weight:bold;" fill="#000">80</text>
<line x1="9.0" y1="279.88800000000003" x2="10.8" y2="279.88800000000003" stroke="#444" stroke-width="0.5" stroke-linecap="butt"/>
<text x="8.600000000000001" y="280.98800000000006" text-anchor="end" style="font-size:3.1px;font-weight:bold;" fill="#000">100</text>
<text x="18.381" y="354.8" text-anchor="middle" style="font-size:3.1px;font-weight:bold;" fill="#000">0</text>
<text x="25.240000000000002" y="354.8" text-anchor="middle" style="font-size:3.1px;font-weight:bold;" fill="#000">10²</text>
<text x="43.650999999999996" y="354.8" text-anchor="middle" style="font-size:3.1px;font-weight:bold;" fill="#000">10³</text>
<text x="60.617999999999995" y="354.8" text-anchor="middle" style="font-size:3.1px;font-weight:bold;" fill="#000">10⁴</text>
<text x="77.224" y="354.8" text-anchor="middle" style="font-size:3.1px;font-weight:bold;" fill="#000">10⁵</text>
<line x1="11.8" y1="349.2" x2="11.8" y2="350.5" stroke="#555" stroke-width="0.35" stroke-linecap="butt"/>
<line x1="13.600000000000001" y1="349.2" x2="13.600000000000001" y2="350.5" stroke="#555" stroke-width="0.35" stroke-linecap="butt"/>
<line x1="15.4" y1="349.2" x2="15.4" y2="350.5" stroke="#555" stroke-width="0.35" stroke-linecap="butt"/>
<line x1="17.200000000000003" y1="349.2" x2="17.200000000000003" y2="350.5" stroke="#555" stroke-width="0.35" stroke-linecap="butt"/>
<line x1="19.0" y1="349.2" x2="19.0" y2="350.5" stroke="#555" stroke-width="0.35" stroke-linecap="butt"/>
<line x1="20.8" y1="349.2" x2="20.8" y2="350.5" stroke="#555" stroke-width="0.35" stroke-linecap="butt"/>
<line x1="22.6" y1="349.2" x2="22.6" y2="350.5" stroke="#555" stroke-width="0.35" stroke-linecap="butt"/>
<line x1="24.400000000000002" y1="349.2" x2="24.400000000000002" y2="350.5" stroke="#555" stroke-width="0.35" stroke-linecap="butt"/>
<line x1="26.200000000000003" y1="349.2" x2="26.200000000000003" y2="350.5" stroke="#555" stroke-width="0.35" stroke-linecap="butt"/>
<line x1="28.000000000000004" y1="349.2" x2="28.000000000000004" y2="350.5" stroke="#555" stroke-width="0.35" stroke-linecap="butt"/>
<line x1="29.8" y1="349.2" x2="29.8" y2="350.5" stroke="#555" stroke-width="0.35" stroke-linecap="butt"/>
<line x1="31.6" y1="349.2" x2="31.6" y2="350.5" stroke="#555" stroke-width="0.35" stroke-linecap="butt"/>
<line x1="33.400000000000006" y1="349.2" x2="33.400000000000006" y2="350.5" stroke="#555" stroke-width="0.35" stroke-linecap="butt"/>
<line x1="35.2" y1="349.2" x2="35.2" y2="350.5" stroke="#555" stroke-width="0.35" stroke-linecap="butt"/>
<line x1="37.0" y1="349.2" x2="37.0" y2="350.5" stroke="#555" stroke-width="0.35" stroke-linecap="butt"/>
<line x1="38.8" y1="349.2" x2="38.8" y2="350.5" stroke="#555" stroke-width="0.35" stroke-linecap="butt"/>
<line x1="40.6" y1="349.2" x2="40.6" y2="350.5" stroke="#555" stroke-width="0.35" stroke-linecap="butt"/>
<line x1="42.400000000000006" y1="349.2" x2="42.400000000000006" y2="350.5" stroke="#555" stroke-width="0.35" stroke-linecap="butt"/>
<line x1="44.2" y1="349.2" x2="44.2" y2="350.5" stroke="#555" stroke-width="0.35" stroke-linecap="butt"/>
<line x1="46.0" y1="349.2" x2="46.0" y2="350.5" stroke="#555" stroke-width="0.35" stroke-linecap="butt"/>
<line x1="47.8" y1="349.2" x2="47.8" y2="350.5" stroke="#555" stroke-width="0.35" stroke-linecap="butt"/>
<line x1="49.60000000000001" y1="349.2" x2="49.60000000000001" y2="350.5" stroke="#555" stroke-width="0.35" stroke-linecap="butt"/>
<line x1="51.400000000000006" y1="349.2" x2="51.400000000000006" y2="350.5" stroke="#555" stroke-width="0.35" stroke-linecap="butt"/>
<line x1="53.2" y1="349.2" x2="53.2" y2="350.5" stroke="#555" stroke-width="0.35" stroke-linecap="butt"/>
<line x1="55.0" y1="349.2" x2="55.0" y2="350.5" stroke="#555" stroke-width="0.35" stroke-linecap="butt"/>
<line x1="56.8" y1="349.2" x2="56.8" y2="350.5" stroke="#555" stroke-width="0.35" stroke-linecap="butt"/>
<line x1="58.60000000000001" y1="349.2" x2="58.60000000000001" y2="350.5" stroke="#555" stroke-width="0.35" stroke-linecap="butt"/>
<line x1="60.400000000000006" y1="349.2" x2="60.400000000000006" y2="350.5" stroke="#555" stroke-width="0.35" stroke-linecap="butt"/>
<line x1="62.2" y1="349.2" x2="62.2" y2="350.5" stroke="#555" stroke-width="0.35" stroke-linecap="butt"/>
<line x1="64.0" y1="349.2" x2="64.0" y2="350.5" stroke="#555" stroke-width="0.35" stroke-linecap="butt"/>
<line x1="65.8" y1="349.2" x2="65.8" y2="350.5" stroke="#555" stroke-width="0.35" stroke-linecap="butt"/>
<line x1="67.60000000000001" y1="349.2" x2="67.60000000000001" y2="350.5" stroke="#555" stroke-width="0.35" stroke-linecap="butt"/>
<line x1="69.4" y1="349.2" x2="69.4" y2="350.5" stroke="#555" stroke-width="0.35" stroke-linecap="butt"/>
<line x1="71.2" y1="349.2" x2="71.2" y2="350.5" stroke="#555" stroke-width="0.35" stroke-linecap="butt"/>
<line x1="73.0" y1="349.2" x2="73.0" y2="350.5" stroke="#555" stroke-width="0.35" stroke-linecap="butt"/>
<line x1="74.8" y1="349.2" x2="74.8" y2="350.5" stroke="#555" stroke-width="0.35" stroke-linecap="butt"/>
<line x1="76.60000000000001" y1="349.2" x2="76.60000000000001" y2="350.5" stroke="#555" stroke-width="0.35" stroke-linecap="butt"/>
<line x1="78.4" y1="349.2" x2="78.4" y2="350.5" stroke="#555" stroke-width="0.35" stroke-linecap="butt"/>
<line x1="80.19999999999999" y1="349.2" x2="80.19999999999999" y2="350.5" stroke="#555" stroke-width="0.35" stroke-linecap="butt"/>
<line x1="82.0" y1="349.2" x2="82.0" y2="350.5" stroke="#555" stroke-width="0.35" stroke-linecap="butt"/>
<rect x="92.8" y="277" width="72.7" height="72.19999999999999" fill="#fff" stroke="#8c8c8c" stroke-width="0.7"/>
<polygon points="93.3,349.2 93.2,348.0 96.4,346.1 100.3,344.2 103.5,340.9 106.1,336.4 108.0,331.3 109.3,327.4 110.6,321.0 111.9,314.5 113.2,306.8 114.5,299.1 115.8,291.3 116.8,286.2 117.4,281.0 118.1,286.2 118.9,288.8 119.6,297.8 120.4,310.7 121.2,323.5 122.0,336.4 122.9,346.7 123.8,349.1 123.8,349.2" fill="#b9b9b9" stroke="none"/>
<polyline points="93.2,348.0 96.4,346.1 100.3,344.2 103.5,340.9 106.1,336.4 108.0,331.3 109.3,327.4 110.6,321.0 111.9,314.5 113.2,306.8 114.5,299.1 115.8,291.3 116.8,286.2 117.4,281.0 118.1,286.2 118.9,288.8 119.6,297.8 120.4,310.7 121.2,323.5 122.0,336.4 122.9,346.7 123.8,349.1" fill="none" stroke="#000" stroke-width="1.2" stroke-linejoin="round"/>
<polyline points="93.2,348.0 97.7,346.5 101.6,344.2 104.8,339.0 107.4,332.6 109.3,328.7 111.3,321.0 112.9,311.9 114.5,302.9 115.8,293.9 117.1,287.5 118.4,283.6 119.4,284.9 120.4,281.0 121.6,284.2 122.9,288.8 124.1,295.2 125.4,301.6 126.7,309.4 128.0,317.1 129.3,324.8 131.0,330.0 132.5,337.7 134.5,345.5 136.4,348.9 139.0,349.1" fill="none" stroke="#2b3f9e" stroke-width="1.15" stroke-linejoin="round"/>
<polyline points="93.2,348.0 96.4,346.7 100.3,345.5 103.5,342.9 106.1,339.7 108.7,336.4 110.6,332.6 112.6,327.4 114.5,321.0 115.8,314.5 117.1,310.7 118.1,304.2 119.0,297.8 119.9,301.6 120.7,296.5 121.6,302.9 122.5,292.6 123.2,287.5 124.1,288.8 125.1,295.2 126.1,291.3 126.9,284.9 127.6,280.8 128.4,286.2 129.2,291.3 129.9,288.8 130.7,290.0 131.2,295.2 132.0,304.2 132.8,310.7 133.6,313.2 134.3,323.5 135.4,332.6 136.4,341.6 137.7,347.4 139.2,349.1 164.7,349.1" fill="none" stroke="#cf1430" stroke-width="1.15" stroke-linejoin="round"/>
<line x1="92.5" y1="349.2" x2="165.5" y2="349.2" stroke="#222" stroke-width="1.4" stroke-linecap="butt"/>
<line x1="92.8" y1="277" x2="92.8" y2="349.2" stroke="#666" stroke-width="0.9" stroke-linecap="butt"/>
<line x1="91.0" y1="349.2" x2="92.8" y2="349.2" stroke="#444" stroke-width="0.5" stroke-linecap="butt"/>
<text x="90.6" y="350.3" text-anchor="end" style="font-size:3.1px;font-weight:bold;" fill="#000">0</text>
<line x1="91.0" y1="335.3376" x2="92.8" y2="335.3376" stroke="#444" stroke-width="0.5" stroke-linecap="butt"/>
<text x="90.6" y="336.43760000000003" text-anchor="end" style="font-size:3.1px;font-weight:bold;" fill="#000">20</text>
<line x1="91.0" y1="321.4752" x2="92.8" y2="321.4752" stroke="#444" stroke-width="0.5" stroke-linecap="butt"/>
<text x="90.6" y="322.5752" text-anchor="end" style="font-size:3.1px;font-weight:bold;" fill="#000">40</text>
<line x1="91.0" y1="307.6128" x2="92.8" y2="307.6128" stroke="#444" stroke-width="0.5" stroke-linecap="butt"/>
<text x="90.6" y="308.7128" text-anchor="end" style="font-size:3.1px;font-weight:bold;" fill="#000">60</text>
<line x1="91.0" y1="293.7504" x2="92.8" y2="293.7504" stroke="#444" stroke-width="0.5" stroke-linecap="butt"/>
<text x="90.6" y="294.85040000000004" text-anchor="end" style="font-size:3.1px;font-weight:bold;" fill="#000">80</text>
<line x1="91.0" y1="279.88800000000003" x2="92.8" y2="279.88800000000003" stroke="#444" stroke-width="0.5" stroke-linecap="butt"/>
<text x="90.6" y="280.98800000000006" text-anchor="end" style="font-size:3.1px;font-weight:bold;" fill="#000">100</text>
<text x="100.4335" y="354.8" text-anchor="middle" style="font-size:3.1px;font-weight:bold;" fill="#000">0</text>
<text x="107.34" y="354.8" text-anchor="middle" style="font-size:3.1px;font-weight:bold;" fill="#000">10²</text>
<text x="125.8785" y="354.8" text-anchor="middle" style="font-size:3.1px;font-weight:bold;" fill="#000">10³</text>
<text x="142.963" y="354.8" text-anchor="middle" style="font-size:3.1px;font-weight:bold;" fill="#000">10⁴</text>
<text x="159.684" y="354.8" text-anchor="middle" style="font-size:3.1px;font-weight:bold;" fill="#000">10⁵</text>
<line x1="93.8" y1="349.2" x2="93.8" y2="350.5" stroke="#555" stroke-width="0.35" stroke-linecap="butt"/>
<line x1="95.6128205128205" y1="349.2" x2="95.6128205128205" y2="350.5" stroke="#555" stroke-width="0.35" stroke-linecap="butt"/>
<line x1="97.42564102564103" y1="349.2" x2="97.42564102564103" y2="350.5" stroke="#555" stroke-width="0.35" stroke-linecap="butt"/>
<line x1="99.23846153846154" y1="349.2" x2="99.23846153846154" y2="350.5" stroke="#555" stroke-width="0.35" stroke-linecap="butt"/>
<line x1="101.05128205128204" y1="349.2" x2="101.05128205128204" y2="350.5" stroke="#555" stroke-width="0.35" stroke-linecap="butt"/>
<line x1="102.86410256410257" y1="349.2" x2="102.86410256410257" y2="350.5" stroke="#555" stroke-width="0.35" stroke-linecap="butt"/>
<line x1="104.67692307692307" y1="349.2" x2="104.67692307692307" y2="350.5" stroke="#555" stroke-width="0.35" stroke-linecap="butt"/>
<line x1="106.48974358974358" y1="349.2" x2="106.48974358974358" y2="350.5" stroke="#555" stroke-width="0.35" stroke-linecap="butt"/>
<line x1="108.3025641025641" y1="349.2" x2="108.3025641025641" y2="350.5" stroke="#555" stroke-width="0.35" stroke-linecap="butt"/>
<line x1="110.11538461538461" y1="349.2" x2="110.11538461538461" y2="350.5" stroke="#555" stroke-width="0.35" stroke-linecap="butt"/>
<line x1="111.92820512820512" y1="349.2" x2="111.92820512820512" y2="350.5" stroke="#555" stroke-width="0.35" stroke-linecap="butt"/>
<line x1="113.74102564102564" y1="349.2" x2="113.74102564102564" y2="350.5" stroke="#555" stroke-width="0.35" stroke-linecap="butt"/>
<line x1="115.55384615384615" y1="349.2" x2="115.55384615384615" y2="350.5" stroke="#555" stroke-width="0.35" stroke-linecap="butt"/>
<line x1="117.36666666666666" y1="349.2" x2="117.36666666666666" y2="350.5" stroke="#555" stroke-width="0.35" stroke-linecap="butt"/>
<line x1="119.17948717948718" y1="349.2" x2="119.17948717948718" y2="350.5" stroke="#555" stroke-width="0.35" stroke-linecap="butt"/>
<line x1="120.99230769230769" y1="349.2" x2="120.99230769230769" y2="350.5" stroke="#555" stroke-width="0.35" stroke-linecap="butt"/>
<line x1="122.8051282051282" y1="349.2" x2="122.8051282051282" y2="350.5" stroke="#555" stroke-width="0.35" stroke-linecap="butt"/>
<line x1="124.61794871794872" y1="349.2" x2="124.61794871794872" y2="350.5" stroke="#555" stroke-width="0.35" stroke-linecap="butt"/>
<line x1="126.43076923076923" y1="349.2" x2="126.43076923076923" y2="350.5" stroke="#555" stroke-width="0.35" stroke-linecap="butt"/>
<line x1="128.24358974358972" y1="349.2" x2="128.24358974358972" y2="350.5" stroke="#555" stroke-width="0.35" stroke-linecap="butt"/>
<line x1="130.05641025641026" y1="349.2" x2="130.05641025641026" y2="350.5" stroke="#555" stroke-width="0.35" stroke-linecap="butt"/>
<line x1="131.86923076923077" y1="349.2" x2="131.86923076923077" y2="350.5" stroke="#555" stroke-width="0.35" stroke-linecap="butt"/>
<line x1="133.68205128205128" y1="349.2" x2="133.68205128205128" y2="350.5" stroke="#555" stroke-width="0.35" stroke-linecap="butt"/>
<line x1="135.4948717948718" y1="349.2" x2="135.4948717948718" y2="350.5" stroke="#555" stroke-width="0.35" stroke-linecap="butt"/>
<line x1="137.30769230769232" y1="349.2" x2="137.30769230769232" y2="350.5" stroke="#555" stroke-width="0.35" stroke-linecap="butt"/>
<line x1="139.12051282051283" y1="349.2" x2="139.12051282051283" y2="350.5" stroke="#555" stroke-width="0.35" stroke-linecap="butt"/>
<line x1="140.93333333333334" y1="349.2" x2="140.93333333333334" y2="350.5" stroke="#555" stroke-width="0.35" stroke-linecap="butt"/>
<line x1="142.74615384615385" y1="349.2" x2="142.74615384615385" y2="350.5" stroke="#555" stroke-width="0.35" stroke-linecap="butt"/>
<line x1="144.55897435897435" y1="349.2" x2="144.55897435897435" y2="350.5" stroke="#555" stroke-width="0.35" stroke-linecap="butt"/>
<line x1="146.37179487179486" y1="349.2" x2="146.37179487179486" y2="350.5" stroke="#555" stroke-width="0.35" stroke-linecap="butt"/>
<line x1="148.18461538461537" y1="349.2" x2="148.18461538461537" y2="350.5" stroke="#555" stroke-width="0.35" stroke-linecap="butt"/>
<line x1="149.9974358974359" y1="349.2" x2="149.9974358974359" y2="350.5" stroke="#555" stroke-width="0.35" stroke-linecap="butt"/>
<line x1="151.81025641025641" y1="349.2" x2="151.81025641025641" y2="350.5" stroke="#555" stroke-width="0.35" stroke-linecap="butt"/>
<line x1="153.62307692307692" y1="349.2" x2="153.62307692307692" y2="350.5" stroke="#555" stroke-width="0.35" stroke-linecap="butt"/>
<line x1="155.43589743589743" y1="349.2" x2="155.43589743589743" y2="350.5" stroke="#555" stroke-width="0.35" stroke-linecap="butt"/>
<line x1="157.24871794871794" y1="349.2" x2="157.24871794871794" y2="350.5" stroke="#555" stroke-width="0.35" stroke-linecap="butt"/>
<line x1="159.06153846153848" y1="349.2" x2="159.06153846153848" y2="350.5" stroke="#555" stroke-width="0.35" stroke-linecap="butt"/>
<line x1="160.87435897435898" y1="349.2" x2="160.87435897435898" y2="350.5" stroke="#555" stroke-width="0.35" stroke-linecap="butt"/>
<line x1="162.6871794871795" y1="349.2" x2="162.6871794871795" y2="350.5" stroke="#555" stroke-width="0.35" stroke-linecap="butt"/>
<line x1="164.5" y1="349.2" x2="164.5" y2="350.5" stroke="#555" stroke-width="0.35" stroke-linecap="butt"/>
<text x="12" y="366.5" text-anchor="start" style="font-size:10.5px;" fill="#1a1a1a" textLength="36" lengthAdjust="spacingAndGlyphs">pSTAT4</text>
<rect x="222.50" y="140.00" width="7.30" height="7.50" fill="#fff" stroke="#000" stroke-width="1.1"/>
<text x="233.8" y="147" text-anchor="start" style="font-size:10.3px;" fill="#1a1a1a" textLength="43" lengthAdjust="spacingAndGlyphs">Wild-type</text>
<rect x="222.00" y="154.30" width="8.00" height="8.00" fill="#000"/>
<g transform="translate(233.8 162)" fill="#1a1a1a" style="font-style:italic"><text x="0.00" y="0" style="font-size:10.9px">Id2</text><text x="15.26" y="-3.6" style="font-size:6.32px" textLength="6.87" lengthAdjust="spacingAndGlyphs">fl/fl</text><text x="23.33" y="0" style="font-size:10.9px">Lck</text><text x="40.33" y="-3.6" style="font-size:6.32px" textLength="13.08" lengthAdjust="spacingAndGlyphs">Cre+</text></g>
<rect x="213.50" y="230.50" width="6.40" height="4.00" fill="#fff" stroke="#000" stroke-width="1.0"/>
<rect x="223.50" y="230.50" width="6.60" height="4.00" fill="#000" stroke="#000" stroke-width="1.0"/>
<line x1="226.8" y1="230" x2="226.8" y2="229" stroke="#000" stroke-width="1.0" stroke-linecap="butt"/>
<line x1="223.836" y1="229" x2="229.764" y2="229" stroke="#000" stroke-width="1.0" stroke-linecap="butt"/>
<rect x="241.10" y="182.20" width="6.40" height="52.30" fill="#fff" stroke="#000" stroke-width="1.0"/>
<line x1="244.3" y1="181.7" x2="244.3" y2="178.5" stroke="#000" stroke-width="1.0" stroke-linecap="butt"/>
<line x1="241.41400000000002" y1="178.5" x2="247.186" y2="178.5" stroke="#000" stroke-width="1.0" stroke-linecap="butt"/>
<rect x="251.00" y="175.70" width="6.50" height="58.80" fill="#000" stroke="#000" stroke-width="1.0"/>
<line x1="254.25" y1="175.2" x2="254.25" y2="172.3" stroke="#000" stroke-width="1.0" stroke-linecap="butt"/>
<line x1="251.325" y1="172.3" x2="257.175" y2="172.3" stroke="#000" stroke-width="1.0" stroke-linecap="butt"/>
<rect x="268.80" y="181.50" width="6.40" height="53.00" fill="#fff" stroke="#000" stroke-width="1.0"/>
<line x1="272.0" y1="181" x2="272.0" y2="176.6" stroke="#000" stroke-width="1.0" stroke-linecap="butt"/>
<line x1="269.11400000000003" y1="176.6" x2="274.88599999999997" y2="176.6" stroke="#000" stroke-width="1.0" stroke-linecap="butt"/>
<rect x="278.80" y="173.50" width="6.50" height="61.00" fill="#000" stroke="#000" stroke-width="1.0"/>
<line x1="282.05" y1="173" x2="282.05" y2="171.5" stroke="#000" stroke-width="1.0" stroke-linecap="butt"/>
<line x1="279.125" y1="171.5" x2="284.975" y2="171.5" stroke="#000" stroke-width="1.0" stroke-linecap="butt"/>
<line x1="207" y1="151.85" x2="207" y2="235.15" stroke="#000" stroke-width="1.3" stroke-linecap="butt"/>
<line x1="204.3" y1="234.5" x2="207" y2="234.5" stroke="#000" stroke-width="1.3" stroke-linecap="butt"/>
<text x="205.5" y="237.812" text-anchor="end" style="font-size:9.2px;" fill="#1a1a1a">0</text>
<line x1="204.3" y1="214.0" x2="207" y2="214.0" stroke="#000" stroke-width="1.3" stroke-linecap="butt"/>
<text x="205.5" y="217.312" text-anchor="end" style="font-size:9.2px;" fill="#1a1a1a">200</text>
<line x1="204.3" y1="193.5" x2="207" y2="193.5" stroke="#000" stroke-width="1.3" stroke-linecap="butt"/>
<text x="205.5" y="196.812" text-anchor="end" style="font-size:9.2px;" fill="#1a1a1a">400</text>
<line x1="204.3" y1="173.0" x2="207" y2="173.0" stroke="#000" stroke-width="1.3" stroke-linecap="butt"/>
<text x="205.5" y="176.312" text-anchor="end" style="font-size:9.2px;" fill="#1a1a1a">600</text>
<line x1="204.3" y1="152.5" x2="207" y2="152.5" stroke="#000" stroke-width="1.3" stroke-linecap="butt"/>
<text x="205.5" y="155.812" text-anchor="end" style="font-size:9.2px;" fill="#1a1a1a">800</text>
<line x1="206.4" y1="234.5" x2="290.4" y2="234.5" stroke="#000" stroke-width="1.2" stroke-linecap="butt"/>
<line x1="221.8" y1="234.5" x2="221.8" y2="237.7" stroke="#000" stroke-width="1.2" stroke-linecap="butt"/>
<text x="221.8" y="245" text-anchor="middle" style="font-size:9.2px;" fill="#1a1a1a">0</text>
<line x1="249.3" y1="234.5" x2="249.3" y2="237.7" stroke="#000" stroke-width="1.2" stroke-linecap="butt"/>
<text x="249.3" y="245" text-anchor="middle" style="font-size:9.2px;" fill="#1a1a1a">15</text>
<line x1="277" y1="234.5" x2="277" y2="237.7" stroke="#000" stroke-width="1.2" stroke-linecap="butt"/>
<text x="277" y="245" text-anchor="middle" style="font-size:9.2px;" fill="#1a1a1a">30</text>
<text x="254" y="256.7" text-anchor="middle" style="font-size:10.3px;" fill="#1a1a1a" textLength="104" lengthAdjust="spacingAndGlyphs">IL-21 stimulation (min)</text>
<text x="188.3" y="194.5" text-anchor="middle" style="font-size:10px;" fill="#1a1a1a" transform="rotate(-90 188.3 194.5)" textLength="57" lengthAdjust="spacingAndGlyphs">pSTAT3 MFI</text>
<rect x="216.80" y="336.30" width="6.60" height="17.00" fill="#fff" stroke="#000" stroke-width="1.0"/>
<rect x="227.10" y="336.80" width="6.40" height="16.50" fill="#000" stroke="#000" stroke-width="1.0"/>
<line x1="230.3" y1="336.3" x2="230.3" y2="335.5" stroke="#000" stroke-width="1.0" stroke-linecap="butt"/>
<line x1="227.41400000000002" y1="335.5" x2="233.186" y2="335.5" stroke="#000" stroke-width="1.0" stroke-linecap="butt"/>
<rect x="244.30" y="295.90" width="6.40" height="57.40" fill="#fff" stroke="#000" stroke-width="1.0"/>
<line x1="247.5" y1="295.4" x2="247.5" y2="287.3" stroke="#000" stroke-width="1.0" stroke-linecap="butt"/>
<line x1="244.614" y1="287.3" x2="250.386" y2="287.3" stroke="#000" stroke-width="1.0" stroke-linecap="butt"/>
<rect x="254.30" y="305.90" width="6.50" height="47.40" fill="#000" stroke="#000" stroke-width="1.0"/>
<line x1="257.55" y1="305.4" x2="257.55" y2="294.8" stroke="#000" stroke-width="1.0" stroke-linecap="butt"/>
<line x1="254.625" y1="294.8" x2="260.475" y2="294.8" stroke="#000" stroke-width="1.0" stroke-linecap="butt"/>
<rect x="272.00" y="282.50" width="6.40" height="70.80" fill="#fff" stroke="#000" stroke-width="1.0"/>
<line x1="275.2" y1="282" x2="275.2" y2="273.3" stroke="#000" stroke-width="1.0" stroke-linecap="butt"/>
<line x1="272.314" y1="273.3" x2="278.08599999999996" y2="273.3" stroke="#000" stroke-width="1.0" stroke-linecap="butt"/>
<rect x="282.00" y="288.50" width="6.50" height="64.80" fill="#000" stroke="#000" stroke-width="1.0"/>
<line x1="285.25" y1="288" x2="285.25" y2="275.7" stroke="#000" stroke-width="1.0" stroke-linecap="butt"/>
<line x1="282.325" y1="275.7" x2="288.175" y2="275.7" stroke="#000" stroke-width="1.0" stroke-linecap="butt"/>
<line x1="210.2" y1="270.55" x2="210.2" y2="353.95" stroke="#000" stroke-width="1.3" stroke-linecap="butt"/>
<line x1="207.5" y1="353.3" x2="210.2" y2="353.3" stroke="#000" stroke-width="1.3" stroke-linecap="butt"/>
<text x="208.5" y="356.612" text-anchor="end" style="font-size:9.2px;" fill="#1a1a1a">0</text>
<line x1="207.5" y1="336.88" x2="210.2" y2="336.88" stroke="#000" stroke-width="1.3" stroke-linecap="butt"/>
<text x="208.5" y="340.192" text-anchor="end" style="font-size:9.2px;" fill="#1a1a1a">200</text>
<line x1="207.5" y1="320.46" x2="210.2" y2="320.46" stroke="#000" stroke-width="1.3" stroke-linecap="butt"/>
<text x="208.5" y="323.772" text-anchor="end" style="font-size:9.2px;" fill="#1a1a1a">400</text>
<line x1="207.5" y1="304.04" x2="210.2" y2="304.04" stroke="#000" stroke-width="1.3" stroke-linecap="butt"/>
<text x="208.5" y="307.35200000000003" text-anchor="end" style="font-size:9.2px;" fill="#1a1a1a">600</text>
<line x1="207.5" y1="287.62" x2="210.2" y2="287.62" stroke="#000" stroke-width="1.3" stroke-linecap="butt"/>
<text x="208.5" y="290.932" text-anchor="end" style="font-size:9.2px;" fill="#1a1a1a">800</text>
<line x1="207.5" y1="271.2" x2="210.2" y2="271.2" stroke="#000" stroke-width="1.3" stroke-linecap="butt"/>
<text x="208.5" y="274.512" text-anchor="end" style="font-size:9.2px;" fill="#1a1a1a">1000</text>
<line x1="209.6" y1="353.3" x2="291.7" y2="353.3" stroke="#000" stroke-width="1.2" stroke-linecap="butt"/>
<line x1="225.2" y1="353.3" x2="225.2" y2="356.5" stroke="#000" stroke-width="1.2" stroke-linecap="butt"/>
<text x="225.2" y="363.5" text-anchor="middle" style="font-size:9.2px;" fill="#1a1a1a">0</text>
<line x1="252.6" y1="353.3" x2="252.6" y2="356.5" stroke="#000" stroke-width="1.2" stroke-linecap="butt"/>
<text x="252.6" y="363.5" text-anchor="middle" style="font-size:9.2px;" fill="#1a1a1a">15</text>
<line x1="280.2" y1="353.3" x2="280.2" y2="356.5" stroke="#000" stroke-width="1.2" stroke-linecap="butt"/>
<text x="280.2" y="363.5" text-anchor="middle" style="font-size:9.2px;" fill="#1a1a1a">30</text>
<text x="254.5" y="375" text-anchor="middle" style="font-size:10.3px;" fill="#1a1a1a" textLength="103" lengthAdjust="spacingAndGlyphs">IL-12 stimulation (min)</text>
<text x="188.3" y="306.3" text-anchor="middle" style="font-size:10px;" fill="#1a1a1a" transform="rotate(-90 188.3 306.3)" textLength="58.5" lengthAdjust="spacingAndGlyphs">pSTAT4 MFI</text>
<text x="335.5" y="147" text-anchor="start" style="font-size:11.5px;font-weight:bold;" fill="#000">C</text>
<rect x="423.20" y="169.00" width="7.00" height="7.00" fill="#fff" stroke="#000" stroke-width="1.0"/>
<text x="434.6" y="175.7" text-anchor="start" style="font-size:10.3px;" fill="#1a1a1a" textLength="43.4" lengthAdjust="spacingAndGlyphs">Wild-type</text>
<rect x="422.70" y="184.20" width="8.00" height="8.00" fill="#000"/>
<g transform="translate(434.6 191.7)" fill="#1a1a1a" style="font-style:italic"><text x="0.00" y="0" style="font-size:10.7px">Id2</text><text x="14.98" y="-3.53" style="font-size:6.21px" textLength="6.74" lengthAdjust="spacingAndGlyphs">fl/fl</text><text x="22.90" y="0" style="font-size:10.7px">Lck</text><text x="39.59" y="-3.53" style="font-size:6.21px" textLength="12.84" lengthAdjust="spacingAndGlyphs">Cre+</text></g>
<rect x="422.80" y="269.70" width="8.20" height="18.30" fill="#fff" stroke="#000" stroke-width="1.0"/>
<line x1="426.9" y1="269.2" x2="426.9" y2="266.5" stroke="#000" stroke-width="1.0" stroke-linecap="butt"/>
<line x1="424.23199999999997" y1="266.5" x2="429.568" y2="266.5" stroke="#000" stroke-width="1.0" stroke-linecap="butt"/>
<rect x="435.10" y="231.20" width="8.20" height="56.80" fill="#000" stroke="#000" stroke-width="1.0"/>
<line x1="439.20000000000005" y1="230.7" x2="439.20000000000005" y2="216.3" stroke="#000" stroke-width="1.0" stroke-linecap="butt"/>
<line x1="436.53200000000004" y1="216.3" x2="441.86800000000005" y2="216.3" stroke="#000" stroke-width="1.0" stroke-linecap="butt"/>
<path d="M400.5 287.6 Q403 285 405.8 285.2 Q408.5 285 411 287.6 Z" fill="#000"/>
<line x1="383.2" y1="188.9" x2="383.2" y2="288.6" stroke="#000" stroke-width="1.3" stroke-linecap="butt"/>
<line x1="380.3" y1="288.0" x2="383.2" y2="288.0" stroke="#000" stroke-width="1.3" stroke-linecap="butt"/>
<text x="376.6" y="291.7" text-anchor="end" style="font-size:10.2px;" fill="#1a1a1a">0</text>
<line x1="380.3" y1="263.375" x2="383.2" y2="263.375" stroke="#000" stroke-width="1.3" stroke-linecap="butt"/>
<text x="378.7" y="267.075" text-anchor="end" style="font-size:10.2px;" fill="#1a1a1a">0.05</text>
<line x1="380.3" y1="238.75" x2="383.2" y2="238.75" stroke="#000" stroke-width="1.3" stroke-linecap="butt"/>
<text x="378.7" y="242.45" text-anchor="end" style="font-size:10.2px;" fill="#1a1a1a">0.10</text>
<line x1="380.3" y1="214.125" x2="383.2" y2="214.125" stroke="#000" stroke-width="1.3" stroke-linecap="butt"/>
<text x="378.7" y="217.825" text-anchor="end" style="font-size:10.2px;" fill="#1a1a1a">0.15</text>
<line x1="380.3" y1="189.5" x2="383.2" y2="189.5" stroke="#000" stroke-width="1.3" stroke-linecap="butt"/>
<text x="378.7" y="193.2" text-anchor="end" style="font-size:10.2px;" fill="#1a1a1a">0.20</text>
<line x1="382.5" y1="288" x2="449" y2="288" stroke="#000" stroke-width="1.3" stroke-linecap="butt"/>
<line x1="399.2" y1="288" x2="399.2" y2="291" stroke="#000" stroke-width="1.2" stroke-linecap="butt"/>
<line x1="433.1" y1="288" x2="433.1" y2="291" stroke="#000" stroke-width="1.2" stroke-linecap="butt"/>
<text x="391" y="304.9" text-anchor="start" style="font-size:10px;" fill="#1a1a1a">IL-2</text>
<text x="423" y="304.9" text-anchor="start" style="font-size:10px;" fill="#1a1a1a">IL-2/</text>
<text x="423" y="317.2" text-anchor="start" style="font-size:10px;" fill="#1a1a1a">IL-21</text>
<text x="343.4" y="241.1" text-anchor="middle" style="font-size:10.1px;" fill="#1a1a1a" transform="rotate(-90 343.4 241.1)"><tspan style="font-style:italic">Il10</tspan> expression</text>
<text x="356.2" y="239.2" text-anchor="middle" style="font-size:10.3px;" fill="#1a1a1a" transform="rotate(-90 356.2 239.2)">normalized to <tspan style="font-style:italic">Hprt</tspan></text>
<text x="0.5" y="388.5" text-anchor="start" style="font-size:11.5px;font-weight:bold;" fill="#000">D</text>
<text x="10" y="400" text-anchor="start" style="font-size:11.5px;" fill="#1a1a1a" textLength="36" lengthAdjust="spacingAndGlyphs">CNS-9</text>
<text x="262.5" y="399.7" text-anchor="start" style="font-size:11.5px;" fill="#1a1a1a" textLength="48.5" lengthAdjust="spacingAndGlyphs">Promoter</text>
<text x="447" y="399.7" text-anchor="start" style="font-size:11.5px;" fill="#1a1a1a" textLength="35.5" lengthAdjust="spacingAndGlyphs">CNS-3</text>
<text x="306" y="413.8" text-anchor="start" style="font-size:11.5px;font-style:italic;" fill="#1a1a1a" textLength="20" lengthAdjust="spacingAndGlyphs">Il10</text>
<text x="222.5" y="418.6" text-anchor="start" style="font-size:6.3px;" fill="#1a1a1a" textLength="40.5" lengthAdjust="spacingAndGlyphs">RefSeq Genes</text>
<line x1="25" y1="406" x2="25" y2="419" stroke="#000" stroke-width="1.1" stroke-linecap="butt"/>
<polygon points="25,421 22.6,416.5 27.4,416.5" fill="#000"/>
<line x1="283" y1="406" x2="283" y2="419" stroke="#000" stroke-width="1.1" stroke-linecap="butt"/>
<polygon points="283,421 280.6,416.5 285.4,416.5" fill="#000"/>
<line x1="471" y1="406.5" x2="471" y2="418.5" stroke="#000" stroke-width="1.1" stroke-linecap="butt"/>
<polygon points="471,420.5 468.6,416.0 473.4,416.0" fill="#000"/>
<line x1="2" y1="430.2" x2="491" y2="430.2" stroke="#dcdcdc" stroke-width="0.6" stroke-linecap="butt"/>
<line x1="2" y1="443.8" x2="491" y2="443.8" stroke="#dcdcdc" stroke-width="0.6" stroke-linecap="butt"/>
<line x1="49" y1="419" x2="49" y2="459" stroke="#f3c9c9" stroke-width="0.6" stroke-linecap="butt"/>
<line x1="98.7" y1="419" x2="98.7" y2="459" stroke="#e6e6e6" stroke-width="0.6" stroke-linecap="butt"/>
<line x1="148" y1="419" x2="148" y2="459" stroke="#f3d6d6" stroke-width="0.6" stroke-linecap="butt"/>
<line x1="197" y1="419" x2="197" y2="459" stroke="#e6e6e6" stroke-width="0.6" stroke-linecap="butt"/>
<line x1="241" y1="419" x2="241" y2="459" stroke="#ee9a9a" stroke-width="0.6" stroke-linecap="butt"/>
<line x1="491" y1="419" x2="491" y2="459" stroke="#dedede" stroke-width="0.6" stroke-linecap="butt"/>
<rect x="294.5" y="426" width="4.5" height="33" fill="#dfe4f1"/>
<rect x="324.8" y="426" width="2.5" height="33" fill="#dfe4f1"/>
<rect x="335.5" y="426" width="4.800000000000011" height="33" fill="#dfe4f1"/>
<rect x="369.8" y="426" width="2.8000000000000114" height="33" fill="#dfe4f1"/>
<rect x="419.5" y="426" width="3.5" height="33" fill="#dfe4f1"/>
<rect x="423" y="426" width="19" height="33" fill="#fbf9d2"/>
<line x1="3" y1="428.5" x2="9.5" y2="428.5" stroke="#f3a3a3" stroke-width="1.7" stroke-linecap="butt"/>
<line x1="17" y1="428.5" x2="30" y2="428.5" stroke="#f3a3a3" stroke-width="1.7" stroke-linecap="butt"/>
<line x1="43" y1="428.5" x2="49" y2="428.5" stroke="#f3a3a3" stroke-width="1.7" stroke-linecap="butt"/>
<line x1="139.5" y1="428.5" x2="143" y2="428.5" stroke="#f3a3a3" stroke-width="1.7" stroke-linecap="butt"/>
<line x1="151" y1="428.5" x2="154.5" y2="428.5" stroke="#f3a3a3" stroke-width="1.7" stroke-linecap="butt"/>
<line x1="157.5" y1="428.5" x2="169.5" y2="428.5" stroke="#f3a3a3" stroke-width="1.7" stroke-linecap="butt"/>
<line x1="183" y1="428.5" x2="188" y2="428.5" stroke="#f3a3a3" stroke-width="1.7" stroke-linecap="butt"/>
<line x1="212.5" y1="428.5" x2="229.5" y2="428.5" stroke="#f3a3a3" stroke-width="1.7" stroke-linecap="butt"/>
<line x1="222" y1="428.5" x2="230" y2="428.5" stroke="#f3a3a3" stroke-width="1.7" stroke-linecap="butt"/>
<line x1="250" y1="428.5" x2="253.5" y2="428.5" stroke="#f3a3a3" stroke-width="1.7" stroke-linecap="butt"/>
<line x1="264.5" y1="428.5" x2="270" y2="428.5" stroke="#f3a3a3" stroke-width="1.7" stroke-linecap="butt"/>
<line x1="276" y1="428.5" x2="292.5" y2="428.5" stroke="#f3a3a3" stroke-width="1.7" stroke-linecap="butt"/>
<line x1="300" y1="428.5" x2="303" y2="428.5" stroke="#f3a3a3" stroke-width="1.7" stroke-linecap="butt"/>
<line x1="306" y1="428.5" x2="318" y2="428.5" stroke="#f3a3a3" stroke-width="1.7" stroke-linecap="butt"/>
<line x1="321" y1="428.5" x2="355" y2="428.5" stroke="#f3a3a3" stroke-width="1.7" stroke-linecap="butt"/>
<line x1="359.5" y1="428.5" x2="363.7" y2="428.5" stroke="#f3a3a3" stroke-width="1.7" stroke-linecap="butt"/>
<line x1="367" y1="428.5" x2="392.5" y2="428.5" stroke="#f3a3a3" stroke-width="1.7" stroke-linecap="butt"/>
<line x1="415" y1="428.5" x2="444" y2="428.5" stroke="#f3a3a3" stroke-width="1.7" stroke-linecap="butt"/>
<line x1="447" y1="428.5" x2="450.8" y2="428.5" stroke="#f3a3a3" stroke-width="1.7" stroke-linecap="butt"/>
<line x1="465" y1="428.5" x2="480.5" y2="428.5" stroke="#f3a3a3" stroke-width="1.7" stroke-linecap="butt"/>
<polygon points="1.8,458.5 1.8,453.0 3.0,452.0 4.5,449.0 6.5,446.5 8.0,448.5 9.3,450.0 10.0,458.5 10.0,458.5" fill="#e93a1d"/>
<polygon points="17.7,458.5 17.7,458.5 18.3,447.0 19.7,438.5 21.0,441.0 22.5,438.0 24.3,435.4 25.5,437.5 27.0,437.7 28.5,443.0 29.5,452.0 30.0,457.7 30.0,458.5" fill="#e93a1d"/>
<polygon points="43.0,458.5 43.0,453.0 44.5,449.0 47.0,447.0 48.2,448.5 49.2,449.0 49.2,458.5" fill="#e93a1d"/>
<polygon points="139.8,458.5 139.8,458.5 140.5,451.0 141.5,448.7 143.5,451.5 145.0,453.0 145.3,458.5 145.3,458.5" fill="#e93a1d"/>
<polygon points="151.5,458.5 151.5,458.5 152.3,450.0 153.5,446.0 154.5,449.0 155.3,458.5 155.3,458.5" fill="#e93a1d"/>
<polygon points="156.8,458.5 156.8,458.5 157.5,452.0 159.0,448.0 161.0,446.5 163.0,443.0 165.0,440.0 166.5,444.0 168.0,447.0 170.0,450.5 171.5,452.8 171.5,458.5" fill="#e93a1d"/>
<polygon points="183.0,458.5 183.0,454.2 183.5,450.0 185.0,446.5 186.5,446.0 187.5,449.0 188.3,458.5 188.3,458.5" fill="#e93a1d"/>
<polygon points="212.0,458.5 212.0,451.5 213.5,448.0 215.0,449.5 217.0,445.0 218.5,443.8 220.0,446.0 222.0,445.0 224.0,447.0 226.0,446.5 228.0,448.0 229.3,452.0 229.5,454.6 229.5,458.5" fill="#e93a1d"/>
<polygon points="250.0,458.5 250.0,451.9 251.0,450.0 252.7,448.8 254.0,450.5 255.0,453.5 255.0,458.5" fill="#e93a1d"/>
<polygon points="264.7,458.5 264.7,451.0 265.5,449.5 268.0,446.5 269.6,451.0 269.6,458.5" fill="#e93a1d"/>
<polygon points="277.8,458.5 277.8,458.4 278.8,445.8 281.2,442.7 283.5,442.0 285.3,439.6 286.5,443.5 287.8,456.5 288.8,455.0 290.4,444.2 291.3,442.4 291.3,458.5" fill="#e93a1d"/>
<polygon points="444.0,458.5 444.0,456.0 445.5,452.0 447.0,449.5 448.5,448.0 449.8,447.0 450.8,449.0 450.9,450.4 450.9,458.5" fill="#e93a1d"/>
<polygon points="465.0,458.5 465.0,458.5 466.5,455.0 468.0,450.0 469.5,443.0 470.4,440.4 471.5,444.0 472.5,452.0 473.5,455.8 474.5,450.0 475.5,441.0 476.7,436.5 478.0,440.0 479.0,447.0 480.0,453.0 481.5,457.5 482.5,458.5 482.5,458.5" fill="#e93a1d"/>
<polygon points="291.3,458.5 291.3,442.4 291.5,442.0 292.3,443.5 293.5,445.8 294.3,446.5 294.3,458.5" fill="#e2e234"/>
<polygon points="423.0,458.5 423.0,452.0 423.8,450.4 425.4,444.2 427.0,436.5 428.3,435.2 430.0,438.5 432.0,446.0 434.4,454.8 436.0,449.0 438.0,443.0 440.0,439.0 441.0,437.5 442.0,441.0 443.0,449.0 444.0,456.0 444.0,458.5" fill="#e2e234"/>
<polygon points="294.3,458.5 294.3,446.5 296.0,445.8 298.5,448.0 299.0,448.0 299.0,458.5" fill="#2553a4"/>
<polygon points="324.6,458.5 324.6,447.0 325.7,446.5 326.6,442.0 327.5,447.0 327.5,458.5" fill="#2553a4"/>
<polygon points="335.5,458.5 335.5,450.0 337.0,441.0 338.0,438.8 339.2,441.0 340.5,449.6 340.5,458.5" fill="#2553a4"/>
<polygon points="368.8,458.5 368.8,450.0 369.7,445.8 370.8,438.8 371.8,444.2 372.3,450.0 372.3,458.5" fill="#2553a4"/>
<polygon points="418.5,458.5 418.5,452.0 419.5,445.8 420.8,441.0 422.0,445.8 423.0,452.0 423.0,458.5" fill="#2553a4"/>
<polygon points="299.0,458.5 299.0,448.0 300.0,448.0 300.4,450.1 300.4,458.5" fill="#8a3a22"/>
<polygon points="300.4,458.5 300.4,450.1 301.5,455.8 301.6,455.9 301.6,458.5" fill="#f6a678"/>
<polygon points="304.6,458.5 304.6,458.5 305.4,448.0 306.6,446.5 307.7,452.0 309.2,448.0 310.8,451.0 312.3,456.5 312.3,458.5" fill="#f6a678"/>
<polygon points="315.4,458.5 315.4,452.0 316.2,451.0 318.5,448.0 320.0,449.6 321.5,448.0 323.0,449.6 324.6,447.0 324.6,458.5" fill="#f6a678"/>
<polygon points="327.5,458.5 327.5,447.0 328.5,448.0 330.3,449.6 331.8,451.0 333.0,457.0 333.0,458.5" fill="#f6a678"/>
<polygon points="340.5,458.5 340.5,449.6 341.5,448.0 343.0,446.5 344.6,445.0 346.2,441.0 347.7,439.6 349.2,442.7 350.8,443.5 352.3,445.0 354.6,448.0 356.2,452.7 357.0,456.5 357.0,458.5" fill="#f6a678"/>
<polygon points="359.0,458.5 359.0,453.0 360.0,448.0 361.5,447.3 362.6,451.0 363.8,458.0 363.8,458.5" fill="#f6a678"/>
<polygon points="366.2,458.5 366.2,457.2 367.0,452.0 368.2,452.7 368.8,450.0 368.8,458.5" fill="#f6a678"/>
<polygon points="372.3,458.5 372.3,450.0 373.0,448.0 374.6,445.8 376.2,444.2 377.7,442.7 379.2,441.0 380.5,438.4 381.5,441.0 382.6,445.8 383.8,443.5 385.0,441.0 386.6,443.5 388.2,447.3 389.7,451.0 390.8,455.0 391.8,452.7 393.0,449.6 394.6,446.5 395.5,448.0 396.2,458.5 396.2,458.5" fill="#f6a678"/>
<polygon points="414.6,458.5 414.6,458.5 415.4,455.0 417.0,453.5 418.5,452.0 418.5,458.5" fill="#f6a678"/>
<polyline points="1.8,453.0 3.0,452.0 4.5,449.0 6.5,446.5 8.0,448.5 9.3,450.0 10.0,458.5 17.7,458.5 18.3,447.0 19.7,438.5 21.0,441.0 22.5,438.0 24.3,435.4 25.5,437.5 27.0,437.7 28.5,443.0 29.5,452.0 30.0,457.7 31.5,453.0 34.0,450.8 36.0,452.3 37.7,451.5 39.5,452.3 40.8,451.5 43.0,453.0 44.5,449.0 47.0,447.0 48.2,448.5 49.2,449.0 51.5,450.8 53.8,454.6 54.6,458.5 139.8,458.5 140.5,451.0 141.5,448.7 143.5,451.5 145.0,453.0 145.3,458.5 151.5,458.5 152.3,450.0 153.5,446.0 154.5,449.0 155.3,458.5 156.8,458.5 157.5,452.0 159.0,448.0 161.0,446.5 163.0,443.0 165.0,440.0 166.5,444.0 168.0,447.0 170.0,450.5 172.0,453.5 174.0,456.0 175.5,458.5 182.5,458.5 183.5,450.0 185.0,446.5 186.5,446.0 187.5,449.0 188.3,458.5 205.0,458.5 207.0,455.0 209.0,452.5 211.0,452.0 212.0,451.5 213.5,448.0 215.0,449.5 217.0,445.0 218.5,443.8 220.0,446.0 222.0,445.0 224.0,447.0 226.0,446.5 228.0,448.0 229.3,452.0 229.8,458.5 238.8,458.5 241.2,452.0 242.2,450.7 244.2,455.8 245.8,458.5 248.0,458.5 249.6,452.7 251.0,450.0 252.7,448.8 254.0,450.5 255.0,453.5 256.5,455.0 259.2,451.0 262.0,450.7 264.2,452.0 265.5,449.5 268.0,446.5 269.6,451.0 272.0,452.0 274.2,452.7 275.8,457.3 277.3,458.5 277.8,458.4 278.8,445.8 281.2,442.7 283.5,442.0 285.3,439.6 286.5,443.5 287.8,456.5 288.8,455.0 290.4,444.2 291.5,442.0 292.3,443.5 293.5,445.8 294.3,446.5 296.0,445.8 298.5,448.0 300.0,448.0 301.5,455.8 303.5,458.5 304.6,458.5 305.4,448.0 306.6,446.5 307.7,452.0 309.2,448.0 310.8,451.0 312.3,456.5 313.5,458.5 314.5,458.5 315.4,452.0 316.2,451.0 318.5,448.0 320.0,449.6 321.5,448.0 323.0,449.6 324.6,447.0 325.7,446.5 326.6,442.0 327.5,447.0 328.5,448.0 330.3,449.6 331.8,451.0 333.0,457.0 333.6,458.5 334.3,458.5 334.8,453.5 335.5,450.0 337.0,441.0 338.0,438.8 339.2,441.0 340.5,449.6 341.5,448.0 343.0,446.5 344.6,445.0 346.2,441.0 347.7,439.6 349.2,442.7 350.8,443.5 352.3,445.0 354.6,448.0 356.2,452.7 357.0,456.5 357.7,455.0 359.0,453.0 360.0,448.0 361.5,447.3 362.6,451.0 363.8,458.0 364.5,458.5 366.0,458.5 367.0,452.0 368.2,452.7 368.8,450.0 369.7,445.8 370.8,438.8 371.8,444.2 372.3,450.0 373.0,448.0 374.6,445.8 376.2,444.2 377.7,442.7 379.2,441.0 380.5,438.4 381.5,441.0 382.6,445.8 383.8,443.5 385.0,441.0 386.6,443.5 388.2,447.3 389.7,451.0 390.8,455.0 391.8,452.7 393.0,449.6 394.6,446.5 395.5,448.0 396.2,458.5 414.6,458.5 415.4,455.0 417.0,453.5 418.5,452.0 419.5,445.8 420.8,441.0 422.0,445.8 423.0,452.0 423.8,450.4 425.4,444.2 427.0,436.5 428.3,435.2 430.0,438.5 432.0,446.0 434.4,454.8 436.0,449.0 438.0,443.0 440.0,439.0 441.0,437.5 442.0,441.0 443.0,449.0 444.0,456.0 445.5,452.0 447.0,449.5 448.5,448.0 449.8,447.0 450.8,449.0 451.3,456.0 452.5,455.0 454.0,457.0 456.0,458.0 457.5,453.0 459.0,458.0 460.5,458.5 465.0,458.5 466.5,455.0 468.0,450.0 469.5,443.0 470.4,440.4 471.5,444.0 472.5,452.0 473.5,455.8 474.5,450.0 475.5,441.0 476.7,436.5 478.0,440.0 479.0,447.0 480.0,453.0 481.5,457.5 482.5,458.5 485.0,458.5 486.7,455.8 488.0,458.5 491.0,458.5" fill="none" stroke="#111" stroke-width="0.8" stroke-linejoin="round"/>
<line x1="2" y1="460.6" x2="54.5" y2="460.6" stroke="#c9c9c9" stroke-width="0.7" stroke-linecap="butt"/>
<line x1="299" y1="422.7" x2="420" y2="422.7" stroke="#dbe6f6" stroke-width="2.6" stroke-linecap="butt"/>
<line x1="299" y1="422.7" x2="420" y2="422.7" stroke="#2a5db0" stroke-width="0.8" stroke-linecap="butt"/>
<polyline points="300.7,421 302.6,422.7 300.7,424.4" fill="none" stroke="#2a5db0" stroke-width="0.8"/>
<polyline points="304.8,421 306.7,422.7 304.8,424.4" fill="none" stroke="#2a5db0" stroke-width="0.8"/>
<polyline points="308.9,421 310.8,422.7 308.9,424.4" fill="none" stroke="#2a5db0" stroke-width="0.8"/>
<polyline points="313.0,421 314.9,422.7 313.0,424.4" fill="none" stroke="#2a5db0" stroke-width="0.8"/>
<polyline points="317.1,421 319.0,422.7 317.1,424.4" fill="none" stroke="#2a5db0" stroke-width="0.8"/>
<polyline points="321.2,421 323.1,422.7 321.2,424.4" fill="none" stroke="#2a5db0" stroke-width="0.8"/>
<polyline points="329.4,421 331.3,422.7 329.4,424.4" fill="none" stroke="#2a5db0" stroke-width="0.8"/>
<polyline points="341.7,421 343.6,422.7 341.7,424.4" fill="none" stroke="#2a5db0" stroke-width="0.8"/>
<polyline points="345.8,421 347.7,422.7 345.8,424.4" fill="none" stroke="#2a5db0" stroke-width="0.8"/>
<polyline points="349.9,421 351.8,422.7 349.9,424.4" fill="none" stroke="#2a5db0" stroke-width="0.8"/>
<polyline points="354.0,421 355.9,422.7 354.0,424.4" fill="none" stroke="#2a5db0" stroke-width="0.8"/>
<polyline points="358.1,421 360.0,422.7 358.1,424.4" fill="none" stroke="#2a5db0" stroke-width="0.8"/>
<polyline points="362.2,421 364.1,422.7 362.2,424.4" fill="none" stroke="#2a5db0" stroke-width="0.8"/>
<polyline points="374.5,421 376.4,422.7 374.5,424.4" fill="none" stroke="#2a5db0" stroke-width="0.8"/>
<polyline points="378.6,421 380.5,422.7 378.6,424.4" fill="none" stroke="#2a5db0" stroke-width="0.8"/>
<polyline points="382.7,421 384.6,422.7 382.7,424.4" fill="none" stroke="#2a5db0" stroke-width="0.8"/>
<polyline points="386.8,421 388.7,422.7 386.8,424.4" fill="none" stroke="#2a5db0" stroke-width="0.8"/>
<polyline points="390.9,421 392.8,422.7 390.9,424.4" fill="none" stroke="#2a5db0" stroke-width="0.8"/>
<polyline points="395.0,421 396.9,422.7 395.0,424.4" fill="none" stroke="#2a5db0" stroke-width="0.8"/>
<polyline points="399.1,421 401.0,422.7 399.1,424.4" fill="none" stroke="#2a5db0" stroke-width="0.8"/>
<polyline points="403.2,421 405.1,422.7 403.2,424.4" fill="none" stroke="#2a5db0" stroke-width="0.8"/>
<polyline points="407.3,421 409.2,422.7 407.3,424.4" fill="none" stroke="#2a5db0" stroke-width="0.8"/>
<polyline points="411.4,421 413.3,422.7 411.4,424.4" fill="none" stroke="#2a5db0" stroke-width="0.8"/>
<polyline points="415.5,421 417.4,422.7 415.5,424.4" fill="none" stroke="#2a5db0" stroke-width="0.8"/>
<rect x="291.8" y="419.8" width="2.6" height="6" fill="#9ccf3a"/>
<rect x="294.3" y="419.6" width="4.699999999999989" height="6.4" fill="#2251a3"/>
<rect x="325" y="419.6" width="2.3000000000000114" height="6.4" fill="#2251a3"/>
<rect x="336" y="419.6" width="4.5" height="6.4" fill="#2251a3"/>
<rect x="369" y="419.6" width="3.3000000000000114" height="6.4" fill="#2251a3"/>
<rect x="420" y="419.6" width="2.5" height="6.4" fill="#2251a3"/>
<rect x="422.5" y="420.2" width="19.5" height="5.6" fill="#dfe234"/>
<rect x="442" y="420.6" width="3" height="4.8" fill="#c9cfd8"/>
<text x="446.8" y="425.2" text-anchor="start" style="font-size:5.2px;" fill="#2a55a8" textLength="5.2" lengthAdjust="spacingAndGlyphs">Il10</text>
<text x="197" y="463.2" text-anchor="middle" style="font-size:3px;" fill="#555">0</text>
<line x1="442.2" y1="474.2" x2="491.2" y2="474.2" stroke="#000" stroke-width="1.4" stroke-linecap="butt"/>
<line x1="442.5" y1="471" x2="442.5" y2="477.3" stroke="#000" stroke-width="1.2" stroke-linecap="butt"/>
<line x1="490.9" y1="471" x2="490.9" y2="477.3" stroke="#000" stroke-width="1.2" stroke-linecap="butt"/>
<text x="467.5" y="471" text-anchor="middle" style="font-size:9px;" fill="#1a1a1a" textLength="22" lengthAdjust="spacingAndGlyphs">1.6 kb</text>
<text x="1" y="491.2" text-anchor="start" style="font-size:11px;font-weight:bold;" fill="#000">E</text>
<text x="10.9" y="538.2" text-anchor="middle" style="font-size:10px;" fill="#1a1a1a" transform="rotate(-90 10.9 538.2)" textLength="45.5" lengthAdjust="spacingAndGlyphs">% of Input</text>
<rect x="33.45" y="554.15" width="4.90" height="28.55" fill="#fff" stroke="#000" stroke-width="0.9"/>
<rect x="40.45" y="558.45" width="5.40" height="24.25" fill="#000" stroke="#000" stroke-width="0.9"/>
<rect x="53.45" y="527.95" width="4.90" height="54.75" fill="#fff" stroke="#000" stroke-width="0.9"/>
<rect x="60.45" y="534.65" width="5.40" height="48.05" fill="#000" stroke="#000" stroke-width="0.9"/>
<rect x="73.45" y="547.15" width="4.90" height="35.55" fill="#fff" stroke="#000" stroke-width="0.9"/>
<rect x="80.45" y="549.65" width="5.40" height="33.05" fill="#000" stroke="#000" stroke-width="0.9"/>
<rect x="94.65" y="517.95" width="4.90" height="64.75" fill="#fff" stroke="#000" stroke-width="0.9"/>
<rect x="101.75" y="526.65" width="5.80" height="56.05" fill="#000" stroke="#000" stroke-width="0.9"/>
<line x1="28.7" y1="500.65000000000003" x2="28.7" y2="583.35" stroke="#000" stroke-width="1.3" stroke-linecap="butt"/>
<line x1="26.0" y1="582.7" x2="28.7" y2="582.7" stroke="#000" stroke-width="1.3" stroke-linecap="butt"/>
<text x="25.9" y="585.868" text-anchor="end" style="font-size:8.8px;" fill="#1a1a1a">0</text>
<line x1="26.0" y1="555.5666666666667" x2="28.7" y2="555.5666666666667" stroke="#000" stroke-width="1.3" stroke-linecap="butt"/>
<text x="25.9" y="558.7346666666667" text-anchor="end" style="font-size:8.8px;" fill="#1a1a1a">5</text>
<line x1="26.0" y1="528.4333333333334" x2="28.7" y2="528.4333333333334" stroke="#000" stroke-width="1.3" stroke-linecap="butt"/>
<text x="25.9" y="531.6013333333334" text-anchor="end" style="font-size:8.8px;" fill="#1a1a1a">10</text>
<line x1="26.0" y1="501.3" x2="28.7" y2="501.3" stroke="#000" stroke-width="1.3" stroke-linecap="butt"/>
<text x="25.9" y="504.468" text-anchor="end" style="font-size:8.8px;" fill="#1a1a1a">15</text>
<line x1="28.099999999999998" y1="582.7" x2="109.5" y2="582.7" stroke="#000" stroke-width="1.2" stroke-linecap="butt"/>
<line x1="39.2" y1="582.7" x2="39.2" y2="585.7" stroke="#000" stroke-width="1.1" stroke-linecap="butt"/>
<line x1="60.4" y1="582.7" x2="60.4" y2="585.7" stroke="#000" stroke-width="1.1" stroke-linecap="butt"/>
<line x1="80.6" y1="582.7" x2="80.6" y2="585.7" stroke="#000" stroke-width="1.1" stroke-linecap="butt"/>
<line x1="101.7" y1="582.7" x2="101.7" y2="585.7" stroke="#000" stroke-width="1.1" stroke-linecap="butt"/>
<text x="70" y="500.3" text-anchor="middle" style="font-size:11px;" fill="#1a1a1a" textLength="42.5" lengthAdjust="spacingAndGlyphs">H3K27ac</text>
<text x="28" y="606.6" text-anchor="start" style="font-size:8.3px;" fill="#1a1a1a">IL-2</text>
<text x="48.8" y="596.3" text-anchor="start" style="font-size:8.3px;" fill="#1a1a1a">IL-2/</text>
<text x="49.199999999999996" y="606.6" text-anchor="start" style="font-size:8.3px;" fill="#1a1a1a">IL-21</text>
<text x="74.2" y="596.3" text-anchor="start" style="font-size:8.3px;" fill="#1a1a1a">IL-2</text>
<text x="94.8" y="596.3" text-anchor="start" style="font-size:8.3px;" fill="#1a1a1a">IL-2/</text>
<text x="95.3" y="606.6" text-anchor="start" style="font-size:8.3px;" fill="#1a1a1a">IL-21</text>
<line x1="25.4" y1="610.3" x2="67.7" y2="610.3" stroke="#000" stroke-width="1.1" stroke-linecap="butt"/>
<line x1="73.5" y1="610.3" x2="114.2" y2="610.3" stroke="#000" stroke-width="1.1" stroke-linecap="butt"/>
<text x="47.8" y="619.4" text-anchor="middle" style="font-size:8.4px;" fill="#1a1a1a">CNS9</text>
<text x="92.8" y="619.4" text-anchor="middle" style="font-size:8.4px;" fill="#1a1a1a">CNS3</text>
<rect x="142.95" y="560.45" width="4.90" height="23.55" fill="#fff" stroke="#000" stroke-width="0.9"/>
<rect x="149.95" y="558.45" width="5.40" height="25.55" fill="#000" stroke="#000" stroke-width="0.9"/>
<rect x="163.45" y="567.45" width="4.90" height="16.55" fill="#fff" stroke="#000" stroke-width="0.9"/>
<rect x="170.45" y="574.95" width="5.40" height="9.05" fill="#000" stroke="#000" stroke-width="0.9"/>
<rect x="183.45" y="543.65" width="4.90" height="40.35" fill="#fff" stroke="#000" stroke-width="0.9"/>
<rect x="190.45" y="525.45" width="5.90" height="58.55" fill="#000" stroke="#000" stroke-width="0.9"/>
<rect x="204.15" y="564.15" width="4.90" height="19.85" fill="#fff" stroke="#000" stroke-width="0.9"/>
<rect x="211.65" y="562.15" width="5.40" height="21.85" fill="#000" stroke="#000" stroke-width="0.9"/>
<line x1="138.7" y1="501.85" x2="138.7" y2="584.65" stroke="#000" stroke-width="1.3" stroke-linecap="butt"/>
<line x1="136.0" y1="584.0" x2="138.7" y2="584.0" stroke="#000" stroke-width="1.3" stroke-linecap="butt"/>
<text x="135.9" y="587.168" text-anchor="end" style="font-size:8.8px;" fill="#1a1a1a">0</text>
<line x1="136.0" y1="563.625" x2="138.7" y2="563.625" stroke="#000" stroke-width="1.3" stroke-linecap="butt"/>
<text x="135.9" y="566.793" text-anchor="end" style="font-size:8.8px;" fill="#1a1a1a">0.2</text>
<line x1="136.0" y1="543.25" x2="138.7" y2="543.25" stroke="#000" stroke-width="1.3" stroke-linecap="butt"/>
<text x="135.9" y="546.418" text-anchor="end" style="font-size:8.8px;" fill="#1a1a1a">0.4</text>
<line x1="136.0" y1="522.875" x2="138.7" y2="522.875" stroke="#000" stroke-width="1.3" stroke-linecap="butt"/>
<text x="135.9" y="526.043" text-anchor="end" style="font-size:8.8px;" fill="#1a1a1a">0.6</text>
<line x1="136.0" y1="502.5" x2="138.7" y2="502.5" stroke="#000" stroke-width="1.3" stroke-linecap="butt"/>
<text x="135.9" y="505.668" text-anchor="end" style="font-size:8.8px;" fill="#1a1a1a">0.8</text>
<line x1="138.1" y1="584.0" x2="219.5" y2="584.0" stroke="#000" stroke-width="1.2" stroke-linecap="butt"/>
<line x1="149" y1="584.0" x2="149" y2="587.0" stroke="#000" stroke-width="1.1" stroke-linecap="butt"/>
<line x1="169.5" y1="584.0" x2="169.5" y2="587.0" stroke="#000" stroke-width="1.1" stroke-linecap="butt"/>
<line x1="190" y1="584.0" x2="190" y2="587.0" stroke="#000" stroke-width="1.1" stroke-linecap="butt"/>
<line x1="210.5" y1="584.0" x2="210.5" y2="587.0" stroke="#000" stroke-width="1.1" stroke-linecap="butt"/>
<text x="191.2" y="500.3" text-anchor="middle" style="font-size:11px;" fill="#1a1a1a" textLength="60" lengthAdjust="spacingAndGlyphs">H3K27me3</text>
<text x="138.1" y="596.3" text-anchor="start" style="font-size:8.3px;" fill="#1a1a1a">IL-2</text>
<text x="158.9" y="596.3" text-anchor="start" style="font-size:8.3px;" fill="#1a1a1a">IL-2/</text>
<text x="159.3" y="606.6" text-anchor="start" style="font-size:8.3px;" fill="#1a1a1a">IL-21</text>
<text x="184.2" y="596.3" text-anchor="start" style="font-size:8.3px;" fill="#1a1a1a">IL-2</text>
<text x="205.1" y="596.3" text-anchor="start" style="font-size:8.3px;" fill="#1a1a1a">IL-2/</text>
<text x="205.6" y="606.6" text-anchor="start" style="font-size:8.3px;" fill="#1a1a1a">IL-21</text>
<line x1="136.2" y1="610.3" x2="178.7" y2="610.3" stroke="#000" stroke-width="1.1" stroke-linecap="butt"/>
<line x1="183" y1="610.3" x2="223.7" y2="610.3" stroke="#000" stroke-width="1.1" stroke-linecap="butt"/>
<text x="157" y="619.4" text-anchor="middle" style="font-size:8.4px;" fill="#1a1a1a">CNS9</text>
<text x="202.9" y="619.4" text-anchor="middle" style="font-size:8.4px;" fill="#1a1a1a">CNS3</text>
<rect x="246.65" y="570.95" width="4.70" height="13.05" fill="#fff" stroke="#000" stroke-width="0.9"/>
<rect x="253.65" y="568.45" width="5.40" height="15.55" fill="#000" stroke="#000" stroke-width="0.9"/>
<rect x="266.65" y="547.95" width="4.90" height="36.05" fill="#fff" stroke="#000" stroke-width="0.9"/>
<rect x="274.15" y="516.65" width="5.40" height="67.35" fill="#000" stroke="#000" stroke-width="0.9"/>
<rect x="287.15" y="566.65" width="4.90" height="17.35" fill="#fff" stroke="#000" stroke-width="0.9"/>
<rect x="294.65" y="565.45" width="5.40" height="18.55" fill="#000" stroke="#000" stroke-width="0.9"/>
<rect x="307.95" y="544.15" width="4.90" height="39.85" fill="#fff" stroke="#000" stroke-width="0.9"/>
<rect x="315.45" y="535.45" width="5.40" height="48.55" fill="#000" stroke="#000" stroke-width="0.9"/>
<line x1="242.5" y1="501.85" x2="242.5" y2="584.65" stroke="#000" stroke-width="1.3" stroke-linecap="butt"/>
<line x1="239.8" y1="584.0" x2="242.5" y2="584.0" stroke="#000" stroke-width="1.3" stroke-linecap="butt"/>
<text x="239.70000000000002" y="587.168" text-anchor="end" style="font-size:8.8px;" fill="#1a1a1a">0</text>
<line x1="239.8" y1="567.7" x2="242.5" y2="567.7" stroke="#000" stroke-width="1.3" stroke-linecap="butt"/>
<text x="239.70000000000002" y="570.868" text-anchor="end" style="font-size:8.8px;" fill="#1a1a1a">5</text>
<line x1="239.8" y1="551.4" x2="242.5" y2="551.4" stroke="#000" stroke-width="1.3" stroke-linecap="butt"/>
<text x="239.70000000000002" y="554.568" text-anchor="end" style="font-size:8.8px;" fill="#1a1a1a">10</text>
<line x1="239.8" y1="535.1" x2="242.5" y2="535.1" stroke="#000" stroke-width="1.3" stroke-linecap="butt"/>
<text x="239.70000000000002" y="538.268" text-anchor="end" style="font-size:8.8px;" fill="#1a1a1a">15</text>
<line x1="239.8" y1="518.8" x2="242.5" y2="518.8" stroke="#000" stroke-width="1.3" stroke-linecap="butt"/>
<text x="239.70000000000002" y="521.968" text-anchor="end" style="font-size:8.8px;" fill="#1a1a1a">20</text>
<line x1="239.8" y1="502.5" x2="242.5" y2="502.5" stroke="#000" stroke-width="1.3" stroke-linecap="butt"/>
<text x="239.70000000000002" y="505.668" text-anchor="end" style="font-size:8.8px;" fill="#1a1a1a">25</text>
<line x1="241.9" y1="584.0" x2="324.5" y2="584.0" stroke="#000" stroke-width="1.2" stroke-linecap="butt"/>
<line x1="253" y1="584.0" x2="253" y2="587.0" stroke="#000" stroke-width="1.1" stroke-linecap="butt"/>
<line x1="273.2" y1="584.0" x2="273.2" y2="587.0" stroke="#000" stroke-width="1.1" stroke-linecap="butt"/>
<line x1="293.6" y1="584.0" x2="293.6" y2="587.0" stroke="#000" stroke-width="1.1" stroke-linecap="butt"/>
<line x1="314.3" y1="584.0" x2="314.3" y2="587.0" stroke="#000" stroke-width="1.1" stroke-linecap="butt"/>
<text x="289.4" y="500.3" text-anchor="middle" style="font-size:11px;" fill="#1a1a1a" textLength="48.7" lengthAdjust="spacingAndGlyphs">H3K27ac</text>
<text x="243" y="596.3" text-anchor="start" style="font-size:8.3px;" fill="#1a1a1a">IL-2</text>
<text x="265.3" y="596.3" text-anchor="start" style="font-size:8.3px;" fill="#1a1a1a">IL-2/</text>
<text x="265.7" y="606.6" text-anchor="start" style="font-size:8.3px;" fill="#1a1a1a">IL-21</text>
<text x="289.2" y="596.3" text-anchor="start" style="font-size:8.3px;" fill="#1a1a1a">IL-2</text>
<text x="310.2" y="596.3" text-anchor="start" style="font-size:8.3px;" fill="#1a1a1a">IL-2/</text>
<text x="310.7" y="606.6" text-anchor="start" style="font-size:8.3px;" fill="#1a1a1a">IL-21</text>
<line x1="243.7" y1="610.3" x2="283.7" y2="610.3" stroke="#000" stroke-width="1.1" stroke-linecap="butt"/>
<line x1="288.7" y1="610.3" x2="327.5" y2="610.3" stroke="#000" stroke-width="1.1" stroke-linecap="butt"/>
<text x="261.9" y="619.4" text-anchor="middle" style="font-size:8.4px;" fill="#1a1a1a">PromA</text>
<text x="307.5" y="619.4" text-anchor="middle" style="font-size:8.4px;" fill="#1a1a1a">PromB</text>
<rect x="364.95" y="544.15" width="4.60" height="39.85" fill="#fff" stroke="#000" stroke-width="0.9"/>
<rect x="372.15" y="528.45" width="5.40" height="55.55" fill="#000" stroke="#000" stroke-width="0.9"/>
<rect x="385.45" y="553.65" width="4.90" height="30.35" fill="#fff" stroke="#000" stroke-width="0.9"/>
<rect x="392.45" y="559.95" width="5.40" height="24.05" fill="#000" stroke="#000" stroke-width="0.9"/>
<rect x="405.45" y="540.45" width="4.90" height="43.55" fill="#fff" stroke="#000" stroke-width="0.9"/>
<rect x="412.95" y="519.65" width="5.40" height="64.35" fill="#000" stroke="#000" stroke-width="0.9"/>
<rect x="426.15" y="544.95" width="4.70" height="39.05" fill="#fff" stroke="#000" stroke-width="0.9"/>
<rect x="433.45" y="554.15" width="5.40" height="29.85" fill="#000" stroke="#000" stroke-width="0.9"/>
<line x1="360.5" y1="501.85" x2="360.5" y2="584.65" stroke="#000" stroke-width="1.3" stroke-linecap="butt"/>
<line x1="357.8" y1="584.0" x2="360.5" y2="584.0" stroke="#000" stroke-width="1.3" stroke-linecap="butt"/>
<text x="357.7" y="587.168" text-anchor="end" style="font-size:8.8px;" fill="#1a1a1a">0</text>
<line x1="357.8" y1="563.625" x2="360.5" y2="563.625" stroke="#000" stroke-width="1.3" stroke-linecap="butt"/>
<text x="357.7" y="566.793" text-anchor="end" style="font-size:8.8px;" fill="#1a1a1a">0.5</text>
<line x1="357.8" y1="543.25" x2="360.5" y2="543.25" stroke="#000" stroke-width="1.3" stroke-linecap="butt"/>
<text x="357.7" y="546.418" text-anchor="end" style="font-size:8.8px;" fill="#1a1a1a">1.0</text>
<line x1="357.8" y1="522.875" x2="360.5" y2="522.875" stroke="#000" stroke-width="1.3" stroke-linecap="butt"/>
<text x="357.7" y="526.043" text-anchor="end" style="font-size:8.8px;" fill="#1a1a1a">1.5</text>
<line x1="357.8" y1="502.5" x2="360.5" y2="502.5" stroke="#000" stroke-width="1.3" stroke-linecap="butt"/>
<text x="357.7" y="505.668" text-anchor="end" style="font-size:8.8px;" fill="#1a1a1a">2.0</text>
<line x1="359.9" y1="584.0" x2="440" y2="584.0" stroke="#000" stroke-width="1.2" stroke-linecap="butt"/>
<line x1="371.3" y1="584.0" x2="371.3" y2="587.0" stroke="#000" stroke-width="1.1" stroke-linecap="butt"/>
<line x1="391.7" y1="584.0" x2="391.7" y2="587.0" stroke="#000" stroke-width="1.1" stroke-linecap="butt"/>
<line x1="412" y1="584.0" x2="412" y2="587.0" stroke="#000" stroke-width="1.1" stroke-linecap="butt"/>
<line x1="432.5" y1="584.0" x2="432.5" y2="587.0" stroke="#000" stroke-width="1.1" stroke-linecap="butt"/>
<text x="408.7" y="500.3" text-anchor="middle" style="font-size:11px;" fill="#1a1a1a" textLength="60" lengthAdjust="spacingAndGlyphs">H3K27me3</text>
<text x="361.7" y="596.3" text-anchor="start" style="font-size:8.3px;" fill="#1a1a1a">IL-2</text>
<text x="383.3" y="596.3" text-anchor="start" style="font-size:8.3px;" fill="#1a1a1a">IL-2/</text>
<text x="383.7" y="606.6" text-anchor="start" style="font-size:8.3px;" fill="#1a1a1a">IL-21</text>
<text x="408" y="596.3" text-anchor="start" style="font-size:8.3px;" fill="#1a1a1a">IL-2</text>
<text x="428.8" y="596.3" text-anchor="start" style="font-size:8.3px;" fill="#1a1a1a">IL-2/</text>
<text x="429.3" y="606.6" text-anchor="start" style="font-size:8.3px;" fill="#1a1a1a">IL-21</text>
<line x1="361.2" y1="610.3" x2="402" y2="610.3" stroke="#000" stroke-width="1.1" stroke-linecap="butt"/>
<line x1="406.2" y1="610.3" x2="445.5" y2="610.3" stroke="#000" stroke-width="1.1" stroke-linecap="butt"/>
<text x="380.4" y="619.4" text-anchor="middle" style="font-size:8.4px;" fill="#1a1a1a">PromA</text>
<text x="425.9" y="619.4" text-anchor="middle" style="font-size:8.4px;" fill="#1a1a1a">PromB</text>
<rect x="455.00" y="499.60" width="7.60" height="7.60" fill="#fff" stroke="#000" stroke-width="1.0"/>
<text x="467" y="505.9" text-anchor="start" style="font-size:10.3px;" fill="#1a1a1a" textLength="43" lengthAdjust="spacingAndGlyphs">Wild-type</text>
<rect x="455.00" y="514.60" width="7.80" height="7.80" fill="#000"/>
<g transform="translate(467.4 521.9)" fill="#1a1a1a" style="font-style:italic"><text x="0.00" y="0" style="font-size:10.45px">Id2</text><text x="14.63" y="-3.45" style="font-size:6.06px" textLength="6.58" lengthAdjust="spacingAndGlyphs">fl/fl</text><text x="22.36" y="0" style="font-size:10.45px">Lck</text><text x="38.66" y="-3.45" style="font-size:6.06px" textLength="12.54" lengthAdjust="spacingAndGlyphs">Cre+</text></g>
</svg>
</body></html>
